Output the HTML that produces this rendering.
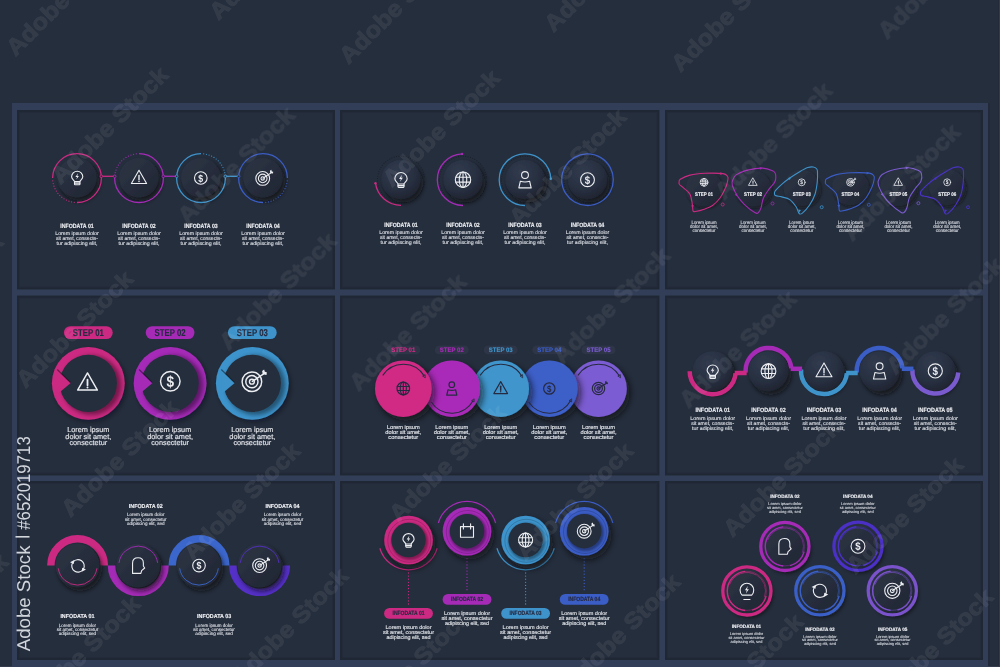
<!DOCTYPE html><html><head><meta charset="utf-8"><title>Infographic templates</title><style>
html,body{margin:0;padding:0;background:#252e3d;width:1000px;height:667px;overflow:hidden}
svg{display:block;position:absolute;left:0;top:0}
text{font-family:"Liberation Sans",Arial,sans-serif;text-rendering:geometricPrecision}
</style></head><body>
<svg width="1000" height="667" viewBox="0 0 1000 667">
<defs>
<filter id="shD" x="-50%" y="-50%" width="200%" height="200%"><feDropShadow dx="2.5" dy="3.5" stdDeviation="2.6" flood-color="#0b0e16" flood-opacity="0.75"/></filter>
<filter id="shS" x="-50%" y="-50%" width="200%" height="200%"><feDropShadow dx="1.5" dy="2" stdDeviation="1.6" flood-color="#0b0e16" flood-opacity="0.6"/></filter>
<filter id="shL" x="-50%" y="-50%" width="200%" height="200%"><feDropShadow dx="3" dy="4" stdDeviation="3.5" flood-color="#0b0e16" flood-opacity="0.7"/></filter>
<filter id="blur1"><feGaussianBlur stdDeviation="1.2"/></filter>
<filter id="blur2" x="-20%" y="-20%" width="140%" height="140%"><feGaussianBlur stdDeviation="2"/></filter>
<filter id="shR" x="-50%" y="-50%" width="200%" height="200%"><feDropShadow dx="2" dy="2.5" stdDeviation="2.5" flood-color="#0b0e16" flood-opacity="0.4"/></filter>
<linearGradient id="gDisk" x1="0" y1="0" x2="1" y2="1"><stop offset="0" stop-color="#2e3647"/><stop offset="1" stop-color="#1f2532"/></linearGradient>
<radialGradient id="gSphere" cx="0.38" cy="0.3" r="0.8"><stop offset="0" stop-color="#313b4e"/><stop offset="0.6" stop-color="#272f40"/><stop offset="1" stop-color="#1c212c"/></radialGradient>
</defs>
<rect x="0" y="0" width="1000" height="667" fill="#252e3d"/>
<rect x="18" y="111" width="316" height="177.5" fill="none" stroke="#1d2331" stroke-width="2" stroke-opacity="0.6"/>
<rect x="19.5" y="112.5" width="313" height="174.5" fill="none" stroke="#1f2533" stroke-width="1" stroke-opacity="0.25"/>
<rect x="18" y="296.5" width="316" height="178" fill="none" stroke="#1d2331" stroke-width="2" stroke-opacity="0.6"/>
<rect x="19.5" y="298" width="313" height="175" fill="none" stroke="#1f2533" stroke-width="1" stroke-opacity="0.25"/>
<rect x="18" y="482" width="316" height="177" fill="none" stroke="#1d2331" stroke-width="2" stroke-opacity="0.6"/>
<rect x="19.5" y="483.5" width="313" height="174" fill="none" stroke="#1f2533" stroke-width="1" stroke-opacity="0.25"/>
<rect x="341" y="111" width="317.5" height="177.5" fill="none" stroke="#1d2331" stroke-width="2" stroke-opacity="0.6"/>
<rect x="342.5" y="112.5" width="314.5" height="174.5" fill="none" stroke="#1f2533" stroke-width="1" stroke-opacity="0.25"/>
<rect x="341" y="296.5" width="317.5" height="178" fill="none" stroke="#1d2331" stroke-width="2" stroke-opacity="0.6"/>
<rect x="342.5" y="298" width="314.5" height="175" fill="none" stroke="#1f2533" stroke-width="1" stroke-opacity="0.25"/>
<rect x="341" y="482" width="317.5" height="177" fill="none" stroke="#1d2331" stroke-width="2" stroke-opacity="0.6"/>
<rect x="342.5" y="483.5" width="314.5" height="174" fill="none" stroke="#1f2533" stroke-width="1" stroke-opacity="0.25"/>
<rect x="666" y="111" width="316" height="177.5" fill="none" stroke="#1d2331" stroke-width="2" stroke-opacity="0.6"/>
<rect x="667.5" y="112.5" width="313" height="174.5" fill="none" stroke="#1f2533" stroke-width="1" stroke-opacity="0.25"/>
<rect x="666" y="296.5" width="316" height="178" fill="none" stroke="#1d2331" stroke-width="2" stroke-opacity="0.6"/>
<rect x="667.5" y="298" width="313" height="175" fill="none" stroke="#1f2533" stroke-width="1" stroke-opacity="0.25"/>
<rect x="666" y="482" width="316" height="177" fill="none" stroke="#1d2331" stroke-width="2" stroke-opacity="0.6"/>
<rect x="667.5" y="483.5" width="313" height="174" fill="none" stroke="#1f2533" stroke-width="1" stroke-opacity="0.25"/>
<rect x="12" y="103" width="5" height="564" fill="#323e57"/>
<rect x="335" y="103" width="5" height="564" fill="#323e57"/>
<rect x="659.5" y="103" width="5.5" height="564" fill="#323e57"/>
<rect x="983" y="103" width="5" height="564" fill="#323e57"/>
<rect x="12" y="103" width="976" height="7" fill="#323e57"/>
<rect x="12" y="289.5" width="976" height="6" fill="#323e57"/>
<rect x="12" y="475.5" width="976" height="5.5" fill="#323e57"/>
<rect x="12" y="660" width="976" height="7" fill="#323e57"/>
<rect x="988" y="103" width="2" height="564" fill="#20263a" opacity="0.6"/>
<rect x="998" y="0" width="1" height="667" fill="#222a39" opacity="0.7"/>
<rect x="999" y="0" width="1" height="667" fill="#343c4c"/>
<rect x="0" y="666" width="12" height="1" fill="#343c4c"/>
<rect x="988" y="666" width="12" height="1" fill="#343c4c"/>
<line x1="101.33" y1="176.3" x2="114.67" y2="176.3" stroke="#cc2a82" stroke-width="1.3"/>
<line x1="163.33" y1="176.3" x2="176.67" y2="176.3" stroke="#a52bb7" stroke-width="1.3"/>
<line x1="225.33" y1="176.3" x2="238.67" y2="176.3" stroke="#3e93cb" stroke-width="1.3"/>
<circle cx="77" cy="177.9" r="19.6" fill="url(#gDisk)" filter="url(#shD)"/>
<path d="M52.6,178.1 A24.4,24.4 0 1 1 77,202.5" fill="none" stroke="#cc2a82" stroke-width="1.3" />
<circle cx="74.27" cy="202.35" r="0.6" fill="#cc2a82" opacity="1"/>
<circle cx="71.57" cy="201.89" r="0.6" fill="#cc2a82" opacity="1"/>
<circle cx="68.94" cy="201.13" r="0.6" fill="#cc2a82" opacity="1"/>
<circle cx="66.41" cy="200.08" r="0.6" fill="#cc2a82" opacity="1"/>
<circle cx="64.02" cy="198.76" r="0.6" fill="#cc2a82" opacity="1"/>
<circle cx="61.79" cy="197.18" r="0.6" fill="#cc2a82" opacity="1"/>
<circle cx="59.75" cy="195.35" r="0.6" fill="#cc2a82" opacity="1"/>
<circle cx="57.92" cy="193.31" r="0.6" fill="#cc2a82" opacity="1"/>
<circle cx="56.34" cy="191.08" r="0.6" fill="#cc2a82" opacity="1"/>
<circle cx="55.02" cy="188.69" r="0.6" fill="#cc2a82" opacity="1"/>
<circle cx="53.97" cy="186.16" r="0.6" fill="#cc2a82" opacity="1"/>
<circle cx="53.21" cy="183.53" r="0.6" fill="#cc2a82" opacity="1"/>
<circle cx="52.75" cy="180.83" r="0.6" fill="#cc2a82" opacity="1"/>
<g transform="translate(77.2,177.6) scale(1)" fill="none" stroke="#eceef2" stroke-width="1.1" stroke-linejoin="round" stroke-linecap="round"><path d="M-2.7,4.0 C-2.7,2.9 -5.6,1.6 -5.6,-0.8 A5.6,5.6 0 1 1 5.6,-0.8 C5.6,1.6 2.7,2.9 2.7,4.0 Z"/><path d="M-2.7,4.0 V6.6 Q-2.7,7.1 -2.2,7.1 H2.2 Q2.7,7.1 2.7,6.6 V4.0"/><path d="M-2.7,5.5 H2.7"/><path d="M0.9,-4.4 L-1.8,-0.6 H-0.1 L-0.9,2.0 L1.7,-1.6 H0.1 Z" fill="#eceef2" stroke="none"/></g>
<circle cx="139" cy="177.9" r="19.6" fill="url(#gDisk)" filter="url(#shD)"/>
<path d="M139,153.7 A24.4,24.4 0 1 1 114.6,178.1" fill="none" stroke="#a52bb7" stroke-width="1.3" />
<circle cx="114.75" cy="175.37" r="0.6" fill="#a52bb7" opacity="1"/>
<circle cx="115.21" cy="172.67" r="0.6" fill="#a52bb7" opacity="1"/>
<circle cx="115.97" cy="170.04" r="0.6" fill="#a52bb7" opacity="1"/>
<circle cx="117.02" cy="167.51" r="0.6" fill="#a52bb7" opacity="1"/>
<circle cx="118.34" cy="165.12" r="0.6" fill="#a52bb7" opacity="1"/>
<circle cx="119.92" cy="162.89" r="0.6" fill="#a52bb7" opacity="1"/>
<circle cx="121.75" cy="160.85" r="0.6" fill="#a52bb7" opacity="1"/>
<circle cx="123.79" cy="159.02" r="0.6" fill="#a52bb7" opacity="1"/>
<circle cx="126.02" cy="157.44" r="0.6" fill="#a52bb7" opacity="1"/>
<circle cx="128.41" cy="156.12" r="0.6" fill="#a52bb7" opacity="1"/>
<circle cx="130.94" cy="155.07" r="0.6" fill="#a52bb7" opacity="1"/>
<circle cx="133.57" cy="154.31" r="0.6" fill="#a52bb7" opacity="1"/>
<circle cx="136.27" cy="153.85" r="0.6" fill="#a52bb7" opacity="1"/>
<g transform="translate(139,177.9) scale(1)" fill="none" stroke="#eceef2" stroke-width="1.1" stroke-linejoin="round" stroke-linecap="round"><path d="M0,-7.6 L7.6,5.6 H-7.6 Z"/><path d="M0,-2.4 V1.9" stroke-width="1.38"/><circle cx="0" cy="3.6" r="0.75" fill="#eceef2" stroke="none"/></g>
<circle cx="201" cy="177.9" r="19.6" fill="url(#gDisk)" filter="url(#shD)"/>
<path d="M225.4,178.1 A24.4,24.4 0 1 1 201,153.7" fill="none" stroke="#3e93cb" stroke-width="1.3" />
<circle cx="203.73" cy="153.85" r="0.6" fill="#3e93cb" opacity="1"/>
<circle cx="206.43" cy="154.31" r="0.6" fill="#3e93cb" opacity="1"/>
<circle cx="209.06" cy="155.07" r="0.6" fill="#3e93cb" opacity="1"/>
<circle cx="211.59" cy="156.12" r="0.6" fill="#3e93cb" opacity="1"/>
<circle cx="213.98" cy="157.44" r="0.6" fill="#3e93cb" opacity="1"/>
<circle cx="216.21" cy="159.02" r="0.6" fill="#3e93cb" opacity="1"/>
<circle cx="218.25" cy="160.85" r="0.6" fill="#3e93cb" opacity="1"/>
<circle cx="220.08" cy="162.89" r="0.6" fill="#3e93cb" opacity="1"/>
<circle cx="221.66" cy="165.12" r="0.6" fill="#3e93cb" opacity="1"/>
<circle cx="222.98" cy="167.51" r="0.6" fill="#3e93cb" opacity="1"/>
<circle cx="224.03" cy="170.04" r="0.6" fill="#3e93cb" opacity="1"/>
<circle cx="224.79" cy="172.67" r="0.6" fill="#3e93cb" opacity="1"/>
<circle cx="225.25" cy="175.37" r="0.6" fill="#3e93cb" opacity="1"/>
<g transform="translate(200.8,178) scale(1)" fill="none" stroke="#eceef2" stroke-width="1.1" stroke-linejoin="round" stroke-linecap="round"><circle cx="0" cy="0" r="6.3"/><text x="0" y="3.6" font-size="10.2" font-weight="700" text-anchor="middle" transform="scale(0.86,1)" fill="#eceef2" stroke="none">$</text></g>
<circle cx="263" cy="177.9" r="19.6" fill="url(#gDisk)" filter="url(#shD)"/>
<path d="M263,202.5 A24.4,24.4 0 1 1 287.4,178.1" fill="none" stroke="#3b5dc6" stroke-width="1.3" />
<circle cx="287.25" cy="180.83" r="0.6" fill="#3b5dc6" opacity="1"/>
<circle cx="286.79" cy="183.53" r="0.6" fill="#3b5dc6" opacity="1"/>
<circle cx="286.03" cy="186.16" r="0.6" fill="#3b5dc6" opacity="1"/>
<circle cx="284.98" cy="188.69" r="0.6" fill="#3b5dc6" opacity="1"/>
<circle cx="283.66" cy="191.08" r="0.6" fill="#3b5dc6" opacity="1"/>
<circle cx="282.08" cy="193.31" r="0.6" fill="#3b5dc6" opacity="1"/>
<circle cx="280.25" cy="195.35" r="0.6" fill="#3b5dc6" opacity="1"/>
<circle cx="278.21" cy="197.18" r="0.6" fill="#3b5dc6" opacity="1"/>
<circle cx="275.98" cy="198.76" r="0.6" fill="#3b5dc6" opacity="1"/>
<circle cx="273.59" cy="200.08" r="0.6" fill="#3b5dc6" opacity="1"/>
<circle cx="271.06" cy="201.13" r="0.6" fill="#3b5dc6" opacity="1"/>
<circle cx="268.43" cy="201.89" r="0.6" fill="#3b5dc6" opacity="1"/>
<circle cx="265.73" cy="202.35" r="0.6" fill="#3b5dc6" opacity="1"/>
<g transform="translate(262.7,178.4) scale(1)" fill="none" stroke="#eceef2" stroke-width="1.1" stroke-linejoin="round" stroke-linecap="round"><circle cx="0" cy="0" r="6.9"/><circle cx="0" cy="0" r="4.3"/><circle cx="0" cy="0" r="1.7"/><path d="M0.3,-0.2 L8.0,-5.3"/><path d="M7.2,-7.6 L7.6,-5.2 L10.3,-4.8 L10.5,-6.6 L9.1,-7.0 L8.6,-8.6 Z" fill="#eceef2" stroke="none"/></g>
<circle cx="101.33" cy="176.3" r="1.3" fill="#252e3d" stroke="#cc2a82" stroke-width="0.9"/>
<circle cx="114.67" cy="176.3" r="1.3" fill="#252e3d" stroke="#a52bb7" stroke-width="0.9"/>
<circle cx="163.33" cy="176.3" r="1.3" fill="#252e3d" stroke="#a52bb7" stroke-width="0.9"/>
<circle cx="176.67" cy="176.3" r="1.3" fill="#252e3d" stroke="#3e93cb" stroke-width="0.9"/>
<circle cx="225.33" cy="176.3" r="1.3" fill="#252e3d" stroke="#3e93cb" stroke-width="0.9"/>
<circle cx="238.67" cy="176.3" r="1.3" fill="#252e3d" stroke="#3b5dc6" stroke-width="0.9"/>
<text x="77" y="227.7" font-size="6.09" font-weight="700" fill="#eceef2" text-anchor="middle" textLength="33.5" lengthAdjust="spacingAndGlyphs" stroke="#eceef2" stroke-width="0.15" >INFODATA 01</text>
<text x="77" y="235.2" font-size="5.15" font-weight="400" fill="#d9dce2" text-anchor="middle" textLength="43.5" lengthAdjust="spacingAndGlyphs" stroke="#d9dce2" stroke-width="0.15" >Lorem ipsum dolor</text>
<text x="77" y="239.9" font-size="5.15" font-weight="400" fill="#d9dce2" text-anchor="middle" textLength="42" lengthAdjust="spacingAndGlyphs" stroke="#d9dce2" stroke-width="0.15" >sit amet, consecte-</text>
<text x="77" y="244.5" font-size="5.15" font-weight="400" fill="#d9dce2" text-anchor="middle" textLength="40.8" lengthAdjust="spacingAndGlyphs" stroke="#d9dce2" stroke-width="0.15" >tur adipiscing elit,</text>
<text x="139" y="227.7" font-size="6.09" font-weight="700" fill="#eceef2" text-anchor="middle" textLength="33.5" lengthAdjust="spacingAndGlyphs" stroke="#eceef2" stroke-width="0.15" >INFODATA 02</text>
<text x="139" y="235.2" font-size="5.15" font-weight="400" fill="#d9dce2" text-anchor="middle" textLength="43.5" lengthAdjust="spacingAndGlyphs" stroke="#d9dce2" stroke-width="0.15" >Lorem ipsum dolor</text>
<text x="139" y="239.9" font-size="5.15" font-weight="400" fill="#d9dce2" text-anchor="middle" textLength="42" lengthAdjust="spacingAndGlyphs" stroke="#d9dce2" stroke-width="0.15" >sit amet, consecte-</text>
<text x="139" y="244.5" font-size="5.15" font-weight="400" fill="#d9dce2" text-anchor="middle" textLength="40.8" lengthAdjust="spacingAndGlyphs" stroke="#d9dce2" stroke-width="0.15" >tur adipiscing elit,</text>
<text x="201" y="227.7" font-size="6.09" font-weight="700" fill="#eceef2" text-anchor="middle" textLength="33.5" lengthAdjust="spacingAndGlyphs" stroke="#eceef2" stroke-width="0.15" >INFODATA 03</text>
<text x="201" y="235.2" font-size="5.15" font-weight="400" fill="#d9dce2" text-anchor="middle" textLength="43.5" lengthAdjust="spacingAndGlyphs" stroke="#d9dce2" stroke-width="0.15" >Lorem ipsum dolor</text>
<text x="201" y="239.9" font-size="5.15" font-weight="400" fill="#d9dce2" text-anchor="middle" textLength="42" lengthAdjust="spacingAndGlyphs" stroke="#d9dce2" stroke-width="0.15" >sit amet, consecte-</text>
<text x="201" y="244.5" font-size="5.15" font-weight="400" fill="#d9dce2" text-anchor="middle" textLength="40.8" lengthAdjust="spacingAndGlyphs" stroke="#d9dce2" stroke-width="0.15" >tur adipiscing elit,</text>
<text x="263" y="227.7" font-size="6.09" font-weight="700" fill="#eceef2" text-anchor="middle" textLength="33.5" lengthAdjust="spacingAndGlyphs" stroke="#eceef2" stroke-width="0.15" >INFODATA 04</text>
<text x="263" y="235.2" font-size="5.15" font-weight="400" fill="#d9dce2" text-anchor="middle" textLength="43.5" lengthAdjust="spacingAndGlyphs" stroke="#d9dce2" stroke-width="0.15" >Lorem ipsum dolor</text>
<text x="263" y="239.9" font-size="5.15" font-weight="400" fill="#d9dce2" text-anchor="middle" textLength="42" lengthAdjust="spacingAndGlyphs" stroke="#d9dce2" stroke-width="0.15" >sit amet, consecte-</text>
<text x="263" y="244.5" font-size="5.15" font-weight="400" fill="#d9dce2" text-anchor="middle" textLength="40.8" lengthAdjust="spacingAndGlyphs" stroke="#d9dce2" stroke-width="0.15" >tur adipiscing elit,</text>
<circle cx="424.38" cy="182.01" r="0.55" fill="#1b2029" opacity="1"/>
<circle cx="424.01" cy="184.39" r="0.55" fill="#1b2029" opacity="1"/>
<circle cx="423.39" cy="186.73" r="0.55" fill="#1b2029" opacity="1"/>
<circle cx="422.54" cy="188.99" r="0.55" fill="#1b2029" opacity="1"/>
<circle cx="421.47" cy="191.15" r="0.55" fill="#1b2029" opacity="1"/>
<circle cx="420.18" cy="193.18" r="0.55" fill="#1b2029" opacity="1"/>
<circle cx="418.68" cy="195.08" r="0.55" fill="#1b2029" opacity="1"/>
<circle cx="417" cy="196.81" r="0.55" fill="#1b2029" opacity="1"/>
<circle cx="415.15" cy="198.36" r="0.55" fill="#1b2029" opacity="1"/>
<circle cx="413.16" cy="199.71" r="0.55" fill="#1b2029" opacity="1"/>
<circle cx="411.03" cy="200.85" r="0.55" fill="#1b2029" opacity="1"/>
<circle cx="408.8" cy="201.77" r="0.55" fill="#1b2029" opacity="1"/>
<circle cx="406.48" cy="202.45" r="0.55" fill="#1b2029" opacity="1"/>
<circle cx="404.11" cy="202.89" r="0.55" fill="#1b2029" opacity="1"/>
<circle cx="401.71" cy="203.09" r="0.55" fill="#1b2029" opacity="1"/>
<circle cx="399.29" cy="203.04" r="0.55" fill="#1b2029" opacity="1"/>
<circle cx="396.9" cy="202.74" r="0.55" fill="#1b2029" opacity="1"/>
<circle cx="394.55" cy="202.2" r="0.55" fill="#1b2029" opacity="1"/>
<circle cx="392.27" cy="201.42" r="0.55" fill="#1b2029" opacity="1"/>
<circle cx="390.07" cy="200.41" r="0.55" fill="#1b2029" opacity="1"/>
<circle cx="388" cy="199.18" r="0.55" fill="#1b2029" opacity="1"/>
<circle cx="386.06" cy="197.74" r="0.55" fill="#1b2029" opacity="1"/>
<circle cx="384.28" cy="196.11" r="0.55" fill="#1b2029" opacity="1"/>
<circle cx="382.67" cy="194.31" r="0.55" fill="#1b2029" opacity="1"/>
<circle cx="381.26" cy="192.35" r="0.55" fill="#1b2029" opacity="1"/>
<circle cx="380.06" cy="190.26" r="0.55" fill="#1b2029" opacity="1"/>
<circle cx="379.08" cy="188.06" r="0.55" fill="#1b2029" opacity="1"/>
<circle cx="378.32" cy="185.77" r="0.55" fill="#1b2029" opacity="1"/>
<circle cx="377.81" cy="183.41" r="0.55" fill="#1b2029" opacity="1"/>
<circle cx="377.54" cy="181.01" r="0.55" fill="#1b2029" opacity="1"/>
<circle cx="377.52" cy="178.6" r="0.55" fill="#1b2029" opacity="1"/>
<circle cx="377.75" cy="176.2" r="0.55" fill="#1b2029" opacity="1"/>
<circle cx="378.22" cy="173.83" r="0.55" fill="#1b2029" opacity="1"/>
<circle cx="378.93" cy="171.52" r="0.55" fill="#1b2029" opacity="1"/>
<circle cx="379.88" cy="169.3" r="0.55" fill="#1b2029" opacity="1"/>
<circle cx="381.04" cy="167.19" r="0.55" fill="#1b2029" opacity="1"/>
<circle cx="382.42" cy="165.21" r="0.55" fill="#1b2029" opacity="1"/>
<circle cx="383.99" cy="163.38" r="0.55" fill="#1b2029" opacity="1"/>
<circle cx="385.75" cy="161.72" r="0.55" fill="#1b2029" opacity="1"/>
<circle cx="387.66" cy="160.25" r="0.55" fill="#1b2029" opacity="1"/>
<circle cx="389.71" cy="158.99" r="0.55" fill="#1b2029" opacity="1"/>
<circle cx="391.89" cy="157.94" r="0.55" fill="#1b2029" opacity="1"/>
<circle cx="394.15" cy="157.12" r="0.55" fill="#1b2029" opacity="1"/>
<circle cx="396.5" cy="156.54" r="0.55" fill="#1b2029" opacity="1"/>
<circle cx="398.88" cy="156.2" r="0.55" fill="#1b2029" opacity="1"/>
<circle cx="401.3" cy="156.1" r="0.55" fill="#1b2029" opacity="1"/>
<circle cx="403.7" cy="156.26" r="0.55" fill="#1b2029" opacity="1"/>
<circle cx="406.08" cy="156.66" r="0.55" fill="#1b2029" opacity="1"/>
<circle cx="408.41" cy="157.3" r="0.55" fill="#1b2029" opacity="1"/>
<circle cx="410.66" cy="158.18" r="0.55" fill="#1b2029" opacity="1"/>
<circle cx="412.8" cy="159.28" r="0.55" fill="#1b2029" opacity="1"/>
<circle cx="414.82" cy="160.6" r="0.55" fill="#1b2029" opacity="1"/>
<circle cx="416.7" cy="162.11" r="0.55" fill="#1b2029" opacity="1"/>
<circle cx="418.41" cy="163.82" r="0.55" fill="#1b2029" opacity="1"/>
<circle cx="419.94" cy="165.68" r="0.55" fill="#1b2029" opacity="1"/>
<circle cx="421.26" cy="167.7" r="0.55" fill="#1b2029" opacity="1"/>
<circle cx="422.38" cy="169.84" r="0.55" fill="#1b2029" opacity="1"/>
<circle cx="423.27" cy="172.08" r="0.55" fill="#1b2029" opacity="1"/>
<circle cx="423.92" cy="174.41" r="0.55" fill="#1b2029" opacity="1"/>
<circle cx="424.33" cy="176.78" r="0.55" fill="#1b2029" opacity="1"/>
<circle cx="401" cy="179.6" r="19.6" fill="url(#gSphere)" filter="url(#shD)"/>
<path d="M401,205.4 A25.8,25.8 0 0 1 375.45,183.19" fill="none" stroke="#cc2a82" stroke-width="1.3" />
<circle cx="375.45" cy="183.19" r="1.2" fill="#cc2a82"/>
<g transform="translate(401,179.6) scale(1.1)" fill="none" stroke="#eceef2" stroke-width="1" stroke-linejoin="round" stroke-linecap="round"><path d="M-2.7,4.0 C-2.7,2.9 -5.6,1.6 -5.6,-0.8 A5.6,5.6 0 1 1 5.6,-0.8 C5.6,1.6 2.7,2.9 2.7,4.0 Z"/><path d="M-2.7,4.0 V6.6 Q-2.7,7.1 -2.2,7.1 H2.2 Q2.7,7.1 2.7,6.6 V4.0"/><path d="M-2.7,5.5 H2.7"/><path d="M0.9,-4.4 L-1.8,-0.6 H-0.1 L-0.9,2.0 L1.7,-1.6 H0.1 Z" fill="#eceef2" stroke="none"/></g>
<circle cx="486.38" cy="182.11" r="0.55" fill="#1b2029" opacity="1"/>
<circle cx="486.01" cy="184.49" r="0.55" fill="#1b2029" opacity="1"/>
<circle cx="485.39" cy="186.83" r="0.55" fill="#1b2029" opacity="1"/>
<circle cx="484.54" cy="189.09" r="0.55" fill="#1b2029" opacity="1"/>
<circle cx="483.47" cy="191.25" r="0.55" fill="#1b2029" opacity="1"/>
<circle cx="482.18" cy="193.28" r="0.55" fill="#1b2029" opacity="1"/>
<circle cx="480.68" cy="195.18" r="0.55" fill="#1b2029" opacity="1"/>
<circle cx="479" cy="196.91" r="0.55" fill="#1b2029" opacity="1"/>
<circle cx="477.15" cy="198.46" r="0.55" fill="#1b2029" opacity="1"/>
<circle cx="475.16" cy="199.81" r="0.55" fill="#1b2029" opacity="1"/>
<circle cx="473.03" cy="200.95" r="0.55" fill="#1b2029" opacity="1"/>
<circle cx="470.8" cy="201.87" r="0.55" fill="#1b2029" opacity="1"/>
<circle cx="468.48" cy="202.55" r="0.55" fill="#1b2029" opacity="1"/>
<circle cx="466.11" cy="202.99" r="0.55" fill="#1b2029" opacity="1"/>
<circle cx="463.71" cy="203.19" r="0.55" fill="#1b2029" opacity="1"/>
<circle cx="461.29" cy="203.14" r="0.55" fill="#1b2029" opacity="1"/>
<circle cx="458.9" cy="202.84" r="0.55" fill="#1b2029" opacity="1"/>
<circle cx="456.55" cy="202.3" r="0.55" fill="#1b2029" opacity="1"/>
<circle cx="454.27" cy="201.52" r="0.55" fill="#1b2029" opacity="1"/>
<circle cx="452.07" cy="200.51" r="0.55" fill="#1b2029" opacity="1"/>
<circle cx="450" cy="199.28" r="0.55" fill="#1b2029" opacity="1"/>
<circle cx="448.06" cy="197.84" r="0.55" fill="#1b2029" opacity="1"/>
<circle cx="446.28" cy="196.21" r="0.55" fill="#1b2029" opacity="1"/>
<circle cx="444.67" cy="194.41" r="0.55" fill="#1b2029" opacity="1"/>
<circle cx="443.26" cy="192.45" r="0.55" fill="#1b2029" opacity="1"/>
<circle cx="442.06" cy="190.36" r="0.55" fill="#1b2029" opacity="1"/>
<circle cx="441.08" cy="188.16" r="0.55" fill="#1b2029" opacity="1"/>
<circle cx="440.32" cy="185.87" r="0.55" fill="#1b2029" opacity="1"/>
<circle cx="439.81" cy="183.51" r="0.55" fill="#1b2029" opacity="1"/>
<circle cx="439.54" cy="181.11" r="0.55" fill="#1b2029" opacity="1"/>
<circle cx="439.52" cy="178.7" r="0.55" fill="#1b2029" opacity="1"/>
<circle cx="439.75" cy="176.3" r="0.55" fill="#1b2029" opacity="1"/>
<circle cx="440.22" cy="173.93" r="0.55" fill="#1b2029" opacity="1"/>
<circle cx="440.93" cy="171.62" r="0.55" fill="#1b2029" opacity="1"/>
<circle cx="441.88" cy="169.4" r="0.55" fill="#1b2029" opacity="1"/>
<circle cx="443.04" cy="167.29" r="0.55" fill="#1b2029" opacity="1"/>
<circle cx="444.42" cy="165.31" r="0.55" fill="#1b2029" opacity="1"/>
<circle cx="445.99" cy="163.48" r="0.55" fill="#1b2029" opacity="1"/>
<circle cx="447.75" cy="161.82" r="0.55" fill="#1b2029" opacity="1"/>
<circle cx="449.66" cy="160.35" r="0.55" fill="#1b2029" opacity="1"/>
<circle cx="451.71" cy="159.09" r="0.55" fill="#1b2029" opacity="1"/>
<circle cx="453.89" cy="158.04" r="0.55" fill="#1b2029" opacity="1"/>
<circle cx="456.15" cy="157.22" r="0.55" fill="#1b2029" opacity="1"/>
<circle cx="458.5" cy="156.64" r="0.55" fill="#1b2029" opacity="1"/>
<circle cx="460.88" cy="156.3" r="0.55" fill="#1b2029" opacity="1"/>
<circle cx="463.3" cy="156.2" r="0.55" fill="#1b2029" opacity="1"/>
<circle cx="465.7" cy="156.36" r="0.55" fill="#1b2029" opacity="1"/>
<circle cx="468.08" cy="156.76" r="0.55" fill="#1b2029" opacity="1"/>
<circle cx="470.41" cy="157.4" r="0.55" fill="#1b2029" opacity="1"/>
<circle cx="472.66" cy="158.28" r="0.55" fill="#1b2029" opacity="1"/>
<circle cx="474.8" cy="159.38" r="0.55" fill="#1b2029" opacity="1"/>
<circle cx="476.82" cy="160.7" r="0.55" fill="#1b2029" opacity="1"/>
<circle cx="478.7" cy="162.21" r="0.55" fill="#1b2029" opacity="1"/>
<circle cx="480.41" cy="163.92" r="0.55" fill="#1b2029" opacity="1"/>
<circle cx="481.94" cy="165.78" r="0.55" fill="#1b2029" opacity="1"/>
<circle cx="483.26" cy="167.8" r="0.55" fill="#1b2029" opacity="1"/>
<circle cx="484.38" cy="169.94" r="0.55" fill="#1b2029" opacity="1"/>
<circle cx="485.27" cy="172.18" r="0.55" fill="#1b2029" opacity="1"/>
<circle cx="485.92" cy="174.51" r="0.55" fill="#1b2029" opacity="1"/>
<circle cx="486.33" cy="176.88" r="0.55" fill="#1b2029" opacity="1"/>
<circle cx="463" cy="179.7" r="19.6" fill="url(#gSphere)" filter="url(#shD)"/>
<path d="M463,205.5 A25.8,25.8 0 0 1 462.1,153.92" fill="none" stroke="#a52bb7" stroke-width="1.3" />
<circle cx="462.1" cy="153.92" r="1.2" fill="#a52bb7"/>
<g transform="translate(463,179.7) scale(1.1)" fill="none" stroke="#eceef2" stroke-width="1" stroke-linejoin="round" stroke-linecap="round"><circle cx="0" cy="0" r="7"/><ellipse cx="0" cy="0" rx="3.4" ry="7"/><path d="M0,-7 V7 M-6.6,-2.2 H6.6 M-6.6,2.2 H6.6"/></g>
<circle cx="548.38" cy="182.11" r="0.55" fill="#1b2029" opacity="1"/>
<circle cx="548.01" cy="184.49" r="0.55" fill="#1b2029" opacity="1"/>
<circle cx="547.39" cy="186.83" r="0.55" fill="#1b2029" opacity="1"/>
<circle cx="546.54" cy="189.09" r="0.55" fill="#1b2029" opacity="1"/>
<circle cx="545.47" cy="191.25" r="0.55" fill="#1b2029" opacity="1"/>
<circle cx="544.18" cy="193.28" r="0.55" fill="#1b2029" opacity="1"/>
<circle cx="542.68" cy="195.18" r="0.55" fill="#1b2029" opacity="1"/>
<circle cx="541" cy="196.91" r="0.55" fill="#1b2029" opacity="1"/>
<circle cx="539.15" cy="198.46" r="0.55" fill="#1b2029" opacity="1"/>
<circle cx="537.16" cy="199.81" r="0.55" fill="#1b2029" opacity="1"/>
<circle cx="535.03" cy="200.95" r="0.55" fill="#1b2029" opacity="1"/>
<circle cx="532.8" cy="201.87" r="0.55" fill="#1b2029" opacity="1"/>
<circle cx="530.48" cy="202.55" r="0.55" fill="#1b2029" opacity="1"/>
<circle cx="528.11" cy="202.99" r="0.55" fill="#1b2029" opacity="1"/>
<circle cx="525.71" cy="203.19" r="0.55" fill="#1b2029" opacity="1"/>
<circle cx="523.29" cy="203.14" r="0.55" fill="#1b2029" opacity="1"/>
<circle cx="520.9" cy="202.84" r="0.55" fill="#1b2029" opacity="1"/>
<circle cx="518.55" cy="202.3" r="0.55" fill="#1b2029" opacity="1"/>
<circle cx="516.27" cy="201.52" r="0.55" fill="#1b2029" opacity="1"/>
<circle cx="514.07" cy="200.51" r="0.55" fill="#1b2029" opacity="1"/>
<circle cx="512" cy="199.28" r="0.55" fill="#1b2029" opacity="1"/>
<circle cx="510.06" cy="197.84" r="0.55" fill="#1b2029" opacity="1"/>
<circle cx="508.28" cy="196.21" r="0.55" fill="#1b2029" opacity="1"/>
<circle cx="506.67" cy="194.41" r="0.55" fill="#1b2029" opacity="1"/>
<circle cx="505.26" cy="192.45" r="0.55" fill="#1b2029" opacity="1"/>
<circle cx="504.06" cy="190.36" r="0.55" fill="#1b2029" opacity="1"/>
<circle cx="503.08" cy="188.16" r="0.55" fill="#1b2029" opacity="1"/>
<circle cx="502.32" cy="185.87" r="0.55" fill="#1b2029" opacity="1"/>
<circle cx="501.81" cy="183.51" r="0.55" fill="#1b2029" opacity="1"/>
<circle cx="501.54" cy="181.11" r="0.55" fill="#1b2029" opacity="1"/>
<circle cx="501.52" cy="178.7" r="0.55" fill="#1b2029" opacity="1"/>
<circle cx="501.75" cy="176.3" r="0.55" fill="#1b2029" opacity="1"/>
<circle cx="502.22" cy="173.93" r="0.55" fill="#1b2029" opacity="1"/>
<circle cx="502.93" cy="171.62" r="0.55" fill="#1b2029" opacity="1"/>
<circle cx="503.88" cy="169.4" r="0.55" fill="#1b2029" opacity="1"/>
<circle cx="505.04" cy="167.29" r="0.55" fill="#1b2029" opacity="1"/>
<circle cx="506.42" cy="165.31" r="0.55" fill="#1b2029" opacity="1"/>
<circle cx="507.99" cy="163.48" r="0.55" fill="#1b2029" opacity="1"/>
<circle cx="509.75" cy="161.82" r="0.55" fill="#1b2029" opacity="1"/>
<circle cx="511.66" cy="160.35" r="0.55" fill="#1b2029" opacity="1"/>
<circle cx="513.71" cy="159.09" r="0.55" fill="#1b2029" opacity="1"/>
<circle cx="515.89" cy="158.04" r="0.55" fill="#1b2029" opacity="1"/>
<circle cx="518.15" cy="157.22" r="0.55" fill="#1b2029" opacity="1"/>
<circle cx="520.5" cy="156.64" r="0.55" fill="#1b2029" opacity="1"/>
<circle cx="522.88" cy="156.3" r="0.55" fill="#1b2029" opacity="1"/>
<circle cx="525.3" cy="156.2" r="0.55" fill="#1b2029" opacity="1"/>
<circle cx="527.7" cy="156.36" r="0.55" fill="#1b2029" opacity="1"/>
<circle cx="530.08" cy="156.76" r="0.55" fill="#1b2029" opacity="1"/>
<circle cx="532.41" cy="157.4" r="0.55" fill="#1b2029" opacity="1"/>
<circle cx="534.66" cy="158.28" r="0.55" fill="#1b2029" opacity="1"/>
<circle cx="536.8" cy="159.38" r="0.55" fill="#1b2029" opacity="1"/>
<circle cx="538.82" cy="160.7" r="0.55" fill="#1b2029" opacity="1"/>
<circle cx="540.7" cy="162.21" r="0.55" fill="#1b2029" opacity="1"/>
<circle cx="542.41" cy="163.92" r="0.55" fill="#1b2029" opacity="1"/>
<circle cx="543.94" cy="165.78" r="0.55" fill="#1b2029" opacity="1"/>
<circle cx="545.26" cy="167.8" r="0.55" fill="#1b2029" opacity="1"/>
<circle cx="546.38" cy="169.94" r="0.55" fill="#1b2029" opacity="1"/>
<circle cx="547.27" cy="172.18" r="0.55" fill="#1b2029" opacity="1"/>
<circle cx="547.92" cy="174.51" r="0.55" fill="#1b2029" opacity="1"/>
<circle cx="548.33" cy="176.88" r="0.55" fill="#1b2029" opacity="1"/>
<circle cx="525" cy="179.7" r="19.6" fill="url(#gSphere)" filter="url(#shD)"/>
<path d="M525,205.5 A25.8,25.8 0 1 1 550.78,178.8" fill="none" stroke="#3e93cb" stroke-width="1.3" />
<circle cx="550.78" cy="178.8" r="1.2" fill="#3e93cb"/>
<g transform="translate(525,179.7) scale(1.1)" fill="none" stroke="#eceef2" stroke-width="1" stroke-linejoin="round" stroke-linecap="round"><circle cx="0" cy="-4.2" r="3.1"/><path d="M-4.2,1.4 Q0,2.8 4.2,1.4 L5.6,7.4 H-5.6 Z"/></g>
<circle cx="610.88" cy="182.11" r="0.55" fill="#1b2029" opacity="1"/>
<circle cx="610.51" cy="184.49" r="0.55" fill="#1b2029" opacity="1"/>
<circle cx="609.89" cy="186.83" r="0.55" fill="#1b2029" opacity="1"/>
<circle cx="609.04" cy="189.09" r="0.55" fill="#1b2029" opacity="1"/>
<circle cx="607.97" cy="191.25" r="0.55" fill="#1b2029" opacity="1"/>
<circle cx="606.68" cy="193.28" r="0.55" fill="#1b2029" opacity="1"/>
<circle cx="605.18" cy="195.18" r="0.55" fill="#1b2029" opacity="1"/>
<circle cx="603.5" cy="196.91" r="0.55" fill="#1b2029" opacity="1"/>
<circle cx="601.65" cy="198.46" r="0.55" fill="#1b2029" opacity="1"/>
<circle cx="599.66" cy="199.81" r="0.55" fill="#1b2029" opacity="1"/>
<circle cx="597.53" cy="200.95" r="0.55" fill="#1b2029" opacity="1"/>
<circle cx="595.3" cy="201.87" r="0.55" fill="#1b2029" opacity="1"/>
<circle cx="592.98" cy="202.55" r="0.55" fill="#1b2029" opacity="1"/>
<circle cx="590.61" cy="202.99" r="0.55" fill="#1b2029" opacity="1"/>
<circle cx="588.21" cy="203.19" r="0.55" fill="#1b2029" opacity="1"/>
<circle cx="585.79" cy="203.14" r="0.55" fill="#1b2029" opacity="1"/>
<circle cx="583.4" cy="202.84" r="0.55" fill="#1b2029" opacity="1"/>
<circle cx="581.05" cy="202.3" r="0.55" fill="#1b2029" opacity="1"/>
<circle cx="578.77" cy="201.52" r="0.55" fill="#1b2029" opacity="1"/>
<circle cx="576.57" cy="200.51" r="0.55" fill="#1b2029" opacity="1"/>
<circle cx="574.5" cy="199.28" r="0.55" fill="#1b2029" opacity="1"/>
<circle cx="572.56" cy="197.84" r="0.55" fill="#1b2029" opacity="1"/>
<circle cx="570.78" cy="196.21" r="0.55" fill="#1b2029" opacity="1"/>
<circle cx="569.17" cy="194.41" r="0.55" fill="#1b2029" opacity="1"/>
<circle cx="567.76" cy="192.45" r="0.55" fill="#1b2029" opacity="1"/>
<circle cx="566.56" cy="190.36" r="0.55" fill="#1b2029" opacity="1"/>
<circle cx="565.58" cy="188.16" r="0.55" fill="#1b2029" opacity="1"/>
<circle cx="564.82" cy="185.87" r="0.55" fill="#1b2029" opacity="1"/>
<circle cx="564.31" cy="183.51" r="0.55" fill="#1b2029" opacity="1"/>
<circle cx="564.04" cy="181.11" r="0.55" fill="#1b2029" opacity="1"/>
<circle cx="564.02" cy="178.7" r="0.55" fill="#1b2029" opacity="1"/>
<circle cx="564.25" cy="176.3" r="0.55" fill="#1b2029" opacity="1"/>
<circle cx="564.72" cy="173.93" r="0.55" fill="#1b2029" opacity="1"/>
<circle cx="565.43" cy="171.62" r="0.55" fill="#1b2029" opacity="1"/>
<circle cx="566.38" cy="169.4" r="0.55" fill="#1b2029" opacity="1"/>
<circle cx="567.54" cy="167.29" r="0.55" fill="#1b2029" opacity="1"/>
<circle cx="568.92" cy="165.31" r="0.55" fill="#1b2029" opacity="1"/>
<circle cx="570.49" cy="163.48" r="0.55" fill="#1b2029" opacity="1"/>
<circle cx="572.25" cy="161.82" r="0.55" fill="#1b2029" opacity="1"/>
<circle cx="574.16" cy="160.35" r="0.55" fill="#1b2029" opacity="1"/>
<circle cx="576.21" cy="159.09" r="0.55" fill="#1b2029" opacity="1"/>
<circle cx="578.39" cy="158.04" r="0.55" fill="#1b2029" opacity="1"/>
<circle cx="580.65" cy="157.22" r="0.55" fill="#1b2029" opacity="1"/>
<circle cx="583" cy="156.64" r="0.55" fill="#1b2029" opacity="1"/>
<circle cx="585.38" cy="156.3" r="0.55" fill="#1b2029" opacity="1"/>
<circle cx="587.8" cy="156.2" r="0.55" fill="#1b2029" opacity="1"/>
<circle cx="590.2" cy="156.36" r="0.55" fill="#1b2029" opacity="1"/>
<circle cx="592.58" cy="156.76" r="0.55" fill="#1b2029" opacity="1"/>
<circle cx="594.91" cy="157.4" r="0.55" fill="#1b2029" opacity="1"/>
<circle cx="597.16" cy="158.28" r="0.55" fill="#1b2029" opacity="1"/>
<circle cx="599.3" cy="159.38" r="0.55" fill="#1b2029" opacity="1"/>
<circle cx="601.32" cy="160.7" r="0.55" fill="#1b2029" opacity="1"/>
<circle cx="603.2" cy="162.21" r="0.55" fill="#1b2029" opacity="1"/>
<circle cx="604.91" cy="163.92" r="0.55" fill="#1b2029" opacity="1"/>
<circle cx="606.44" cy="165.78" r="0.55" fill="#1b2029" opacity="1"/>
<circle cx="607.76" cy="167.8" r="0.55" fill="#1b2029" opacity="1"/>
<circle cx="608.88" cy="169.94" r="0.55" fill="#1b2029" opacity="1"/>
<circle cx="609.77" cy="172.18" r="0.55" fill="#1b2029" opacity="1"/>
<circle cx="610.42" cy="174.51" r="0.55" fill="#1b2029" opacity="1"/>
<circle cx="610.83" cy="176.88" r="0.55" fill="#1b2029" opacity="1"/>
<circle cx="587.5" cy="179.7" r="19.6" fill="url(#gSphere)" filter="url(#shD)"/>
<path d="M613.3,179.7 A25.8,25.8 0 1 1 613.3,179.65" fill="none" stroke="#3b5dc6" stroke-width="1.3" />
<g transform="translate(587.5,179.7) scale(1.1)" fill="none" stroke="#eceef2" stroke-width="1" stroke-linejoin="round" stroke-linecap="round"><circle cx="0" cy="0" r="6.3"/><text x="0" y="3.6" font-size="10.2" font-weight="700" text-anchor="middle" transform="scale(0.86,1)" fill="#eceef2" stroke="none">$</text></g>
<text x="401" y="227.2" font-size="6.09" font-weight="700" fill="#eceef2" text-anchor="middle" textLength="33.5" lengthAdjust="spacingAndGlyphs" stroke="#eceef2" stroke-width="0.15" >INFODATA 01</text>
<text x="401" y="234.3" font-size="5.15" font-weight="400" fill="#d9dce2" text-anchor="middle" textLength="43.5" lengthAdjust="spacingAndGlyphs" stroke="#d9dce2" stroke-width="0.15" >Lorem ipsum dolor</text>
<text x="401" y="239.3" font-size="5.15" font-weight="400" fill="#d9dce2" text-anchor="middle" textLength="42" lengthAdjust="spacingAndGlyphs" stroke="#d9dce2" stroke-width="0.15" >sit amet, consecte-</text>
<text x="401" y="244.1" font-size="5.15" font-weight="400" fill="#d9dce2" text-anchor="middle" textLength="40.8" lengthAdjust="spacingAndGlyphs" stroke="#d9dce2" stroke-width="0.15" >tur adipiscing elit,</text>
<text x="463" y="227.2" font-size="6.09" font-weight="700" fill="#eceef2" text-anchor="middle" textLength="33.5" lengthAdjust="spacingAndGlyphs" stroke="#eceef2" stroke-width="0.15" >INFODATA 02</text>
<text x="463" y="234.3" font-size="5.15" font-weight="400" fill="#d9dce2" text-anchor="middle" textLength="43.5" lengthAdjust="spacingAndGlyphs" stroke="#d9dce2" stroke-width="0.15" >Lorem ipsum dolor</text>
<text x="463" y="239.3" font-size="5.15" font-weight="400" fill="#d9dce2" text-anchor="middle" textLength="42" lengthAdjust="spacingAndGlyphs" stroke="#d9dce2" stroke-width="0.15" >sit amet, consecte-</text>
<text x="463" y="244.1" font-size="5.15" font-weight="400" fill="#d9dce2" text-anchor="middle" textLength="40.8" lengthAdjust="spacingAndGlyphs" stroke="#d9dce2" stroke-width="0.15" >tur adipiscing elit,</text>
<text x="525" y="227.2" font-size="6.09" font-weight="700" fill="#eceef2" text-anchor="middle" textLength="33.5" lengthAdjust="spacingAndGlyphs" stroke="#eceef2" stroke-width="0.15" >INFODATA 03</text>
<text x="525" y="234.3" font-size="5.15" font-weight="400" fill="#d9dce2" text-anchor="middle" textLength="43.5" lengthAdjust="spacingAndGlyphs" stroke="#d9dce2" stroke-width="0.15" >Lorem ipsum dolor</text>
<text x="525" y="239.3" font-size="5.15" font-weight="400" fill="#d9dce2" text-anchor="middle" textLength="42" lengthAdjust="spacingAndGlyphs" stroke="#d9dce2" stroke-width="0.15" >sit amet, consecte-</text>
<text x="525" y="244.1" font-size="5.15" font-weight="400" fill="#d9dce2" text-anchor="middle" textLength="40.8" lengthAdjust="spacingAndGlyphs" stroke="#d9dce2" stroke-width="0.15" >tur adipiscing elit,</text>
<text x="587.5" y="227.2" font-size="6.09" font-weight="700" fill="#eceef2" text-anchor="middle" textLength="33.5" lengthAdjust="spacingAndGlyphs" stroke="#eceef2" stroke-width="0.15" >INFODATA 04</text>
<text x="587.5" y="234.3" font-size="5.15" font-weight="400" fill="#d9dce2" text-anchor="middle" textLength="43.5" lengthAdjust="spacingAndGlyphs" stroke="#d9dce2" stroke-width="0.15" >Lorem ipsum dolor</text>
<text x="587.5" y="239.3" font-size="5.15" font-weight="400" fill="#d9dce2" text-anchor="middle" textLength="42" lengthAdjust="spacingAndGlyphs" stroke="#d9dce2" stroke-width="0.15" >sit amet, consecte-</text>
<text x="587.5" y="244.1" font-size="5.15" font-weight="400" fill="#d9dce2" text-anchor="middle" textLength="40.8" lengthAdjust="spacingAndGlyphs" stroke="#d9dce2" stroke-width="0.15" >tur adipiscing elit,</text>
<circle cx="704" cy="188.5" r="18" fill="url(#gDisk)" filter="url(#shS)"/>
<circle cx="753" cy="188.5" r="18" fill="url(#gDisk)" filter="url(#shS)"/>
<circle cx="801.7" cy="188" r="18" fill="url(#gDisk)" filter="url(#shS)"/>
<circle cx="850.4" cy="187.2" r="18" fill="url(#gDisk)" filter="url(#shS)"/>
<circle cx="898.4" cy="188" r="18" fill="url(#gDisk)" filter="url(#shS)"/>
<circle cx="947.2" cy="187.2" r="18" fill="url(#gDisk)" filter="url(#shS)"/>
<path d="M679.1,182.3 C679.23,181.43 678.48,180.5 680.3,179.3 C682.12,178.1 685.88,176.1 690,175.1 C694.12,174.1 699.5,173.55 705,173.3 C710.5,173.05 719.25,173.1 723,173.6 C726.75,174.1 726.68,175.35 727.5,176.3 C728.32,177.25 728.15,177.55 727.9,179.3 C727.65,181.05 727.32,183.68 726,186.8 C724.68,189.92 722.25,194.88 720,198 C717.75,201.12 715,203.68 712.5,205.5 C710,207.32 707.87,207.9 705,208.9 C702.13,209.9 697.3,211.18 695.3,211.5 C693.3,211.82 693.5,212.05 693,210.8 C692.5,209.55 692.8,206.75 692.3,204 C691.8,201.25 691.38,196.92 690,194.3 C688.62,191.68 685.75,189.93 684,188.3 C682.25,186.67 680.32,185.5 679.5,184.5 C678.68,183.5 678.97,183.17 679.1,182.3 Z" fill="none" stroke="#cc2a82" stroke-width="1.1"/>
<path d="M723.1,173.6 L720.3,175 L720.3,172.2 Z" fill="#cc2a82"/>
<path d="M692.74,208.09 L691.1,205.43 L693.89,205.18 Z" fill="#cc2a82"/>
<circle cx="722.7" cy="204.5" r="1.5" fill="none" stroke="#cc2a82" stroke-width="0.8"/>
<g transform="translate(704,182.3) scale(0.55)" fill="none" stroke="#eceef2" stroke-width="1.45" stroke-linejoin="round" stroke-linecap="round"><circle cx="0" cy="0" r="7"/><ellipse cx="0" cy="0" rx="3.4" ry="7"/><path d="M0,-7 V7 M-6.6,-2.2 H6.6 M-6.6,2.2 H6.6"/></g>
<text x="704" y="195.8" font-size="5.29" font-weight="700" fill="#eceef2" text-anchor="middle" textLength="18" lengthAdjust="spacingAndGlyphs" stroke="#eceef2" stroke-width="0.15" >STEP 01</text>
<text x="704" y="223.8" font-size="4.82" font-weight="400" fill="#d9dce2" text-anchor="middle" textLength="25" lengthAdjust="spacingAndGlyphs" stroke="#d9dce2" stroke-width="0.15" >Lorem ipsum</text>
<text x="704" y="227.8" font-size="4.82" font-weight="400" fill="#d9dce2" text-anchor="middle" textLength="28" lengthAdjust="spacingAndGlyphs" stroke="#d9dce2" stroke-width="0.15" >dolor sit amet,</text>
<text x="704" y="231.8" font-size="4.82" font-weight="400" fill="#d9dce2" text-anchor="middle" textLength="23" lengthAdjust="spacingAndGlyphs" stroke="#d9dce2" stroke-width="0.15" >consectetur</text>
<path d="M732.1,183.1 C732.02,182 731.82,182.07 732.5,180.7 C733.18,179.33 733.52,176.7 736.2,174.9 C738.88,173.1 744.2,171.03 748.6,169.9 C753,168.77 758.62,167.95 762.6,168.1 C766.58,168.25 770.37,169.87 772.5,170.8 C774.63,171.73 774.98,171.92 775.4,173.7 C775.82,175.48 776.03,178.97 775,181.5 C773.97,184.03 771.13,186.15 769.2,188.9 C767.27,191.65 764.77,194.83 763.4,198 C762.03,201.17 761.82,205.5 761,207.9 C760.18,210.3 759.47,211.58 758.5,212.4 C757.53,213.22 757.53,214.1 755.2,212.8 C752.87,211.5 747.52,207.48 744.5,204.6 C741.48,201.72 739.02,198.38 737.1,195.5 C735.18,192.62 733.83,189.37 733,187.3 C732.17,185.23 732.18,184.2 732.1,183.1 Z" fill="none" stroke="#a32ab3" stroke-width="1.1"/>
<path d="M762.59,168.06 L759.93,169.7 L759.68,166.91 Z" fill="#a32ab3"/>
<path d="M737.3,196.39 L734.69,194.66 L737.11,193.26 Z" fill="#a32ab3"/>
<circle cx="772.5" cy="203.5" r="1.5" fill="none" stroke="#a32ab3" stroke-width="0.8"/>
<g transform="translate(753,182.3) scale(0.55)" fill="none" stroke="#eceef2" stroke-width="1.45" stroke-linejoin="round" stroke-linecap="round"><path d="M0,-7.6 L7.6,5.6 H-7.6 Z"/><path d="M0,-2.4 V1.9" stroke-width="1.82"/><circle cx="0" cy="3.6" r="0.75" fill="#eceef2" stroke="none"/></g>
<text x="753" y="195.8" font-size="5.29" font-weight="700" fill="#eceef2" text-anchor="middle" textLength="18" lengthAdjust="spacingAndGlyphs" stroke="#eceef2" stroke-width="0.15" >STEP 02</text>
<text x="753" y="223.8" font-size="4.82" font-weight="400" fill="#d9dce2" text-anchor="middle" textLength="25" lengthAdjust="spacingAndGlyphs" stroke="#d9dce2" stroke-width="0.15" >Lorem ipsum</text>
<text x="753" y="227.8" font-size="4.82" font-weight="400" fill="#d9dce2" text-anchor="middle" textLength="28" lengthAdjust="spacingAndGlyphs" stroke="#d9dce2" stroke-width="0.15" >dolor sit amet,</text>
<text x="753" y="231.8" font-size="4.82" font-weight="400" fill="#d9dce2" text-anchor="middle" textLength="23" lengthAdjust="spacingAndGlyphs" stroke="#d9dce2" stroke-width="0.15" >consectetur</text>
<path d="M774.5,193.3 C774.5,192.48 774.2,192.1 775.4,190.6 C776.6,189.1 779.3,186.4 781.7,184.3 C784.1,182.2 786.8,180.1 789.8,178 C792.8,175.9 796.7,173.43 799.7,171.7 C802.7,169.97 805.55,168.38 807.8,167.6 C810.05,166.82 811.7,166.77 813.2,167 C814.7,167.23 816.08,168.07 816.8,169 C817.52,169.93 817.43,170.35 817.5,172.6 C817.57,174.85 817.62,178.9 817.2,182.5 C816.78,186.1 816.27,190.45 815,194.2 C813.73,197.95 811.7,201.85 809.6,205 C807.5,208.15 804.13,211.68 802.4,213.1 C800.67,214.52 800.25,214.55 799.2,213.5 C798.15,212.45 797.67,209.12 796.1,206.8 C794.53,204.48 792.2,201.25 789.8,199.6 C787.4,197.95 784.1,197.58 781.7,196.9 C779.3,196.22 776.6,196.1 775.4,195.5 C774.2,194.9 774.5,194.12 774.5,193.3 Z" fill="none" stroke="#3e93cb" stroke-width="1.1"/>
<path d="M791.03,177.17 L789.78,180.04 L787.98,177.9 Z" fill="#3e93cb"/>
<path d="M799.12,212.58 L798.23,209.58 L800.99,210.06 Z" fill="#3e93cb"/>
<circle cx="821.7" cy="207.2" r="1.5" fill="none" stroke="#3e93cb" stroke-width="0.8"/>
<g transform="translate(801.7,182.3) scale(0.55)" fill="none" stroke="#eceef2" stroke-width="1.45" stroke-linejoin="round" stroke-linecap="round"><circle cx="0" cy="0" r="6.3"/><text x="0" y="3.6" font-size="10.2" font-weight="700" text-anchor="middle" transform="scale(0.86,1)" fill="#eceef2" stroke="none">$</text></g>
<text x="801.7" y="195.8" font-size="5.29" font-weight="700" fill="#eceef2" text-anchor="middle" textLength="18" lengthAdjust="spacingAndGlyphs" stroke="#eceef2" stroke-width="0.15" >STEP 03</text>
<text x="801.7" y="223.8" font-size="4.82" font-weight="400" fill="#d9dce2" text-anchor="middle" textLength="25" lengthAdjust="spacingAndGlyphs" stroke="#d9dce2" stroke-width="0.15" >Lorem ipsum</text>
<text x="801.7" y="227.8" font-size="4.82" font-weight="400" fill="#d9dce2" text-anchor="middle" textLength="28" lengthAdjust="spacingAndGlyphs" stroke="#d9dce2" stroke-width="0.15" >dolor sit amet,</text>
<text x="801.7" y="231.8" font-size="4.82" font-weight="400" fill="#d9dce2" text-anchor="middle" textLength="23" lengthAdjust="spacingAndGlyphs" stroke="#d9dce2" stroke-width="0.15" >consectetur</text>
<path d="M825.4,181.8 C825.53,180.93 824.78,180 826.6,178.8 C828.42,177.6 832.18,175.6 836.3,174.6 C840.42,173.6 845.8,173.05 851.3,172.8 C856.8,172.55 865.55,172.6 869.3,173.1 C873.05,173.6 872.98,174.85 873.8,175.8 C874.62,176.75 874.45,177.05 874.2,178.8 C873.95,180.55 873.62,183.18 872.3,186.3 C870.98,189.42 868.55,194.38 866.3,197.5 C864.05,200.62 861.3,203.18 858.8,205 C856.3,206.82 854.17,207.4 851.3,208.4 C848.43,209.4 843.6,210.68 841.6,211 C839.6,211.32 839.8,211.55 839.3,210.3 C838.8,209.05 839.1,206.25 838.6,203.5 C838.1,200.75 837.68,196.42 836.3,193.8 C834.92,191.18 832.05,189.43 830.3,187.8 C828.55,186.17 826.62,185 825.8,184 C824.98,183 825.27,182.67 825.4,181.8 Z" fill="none" stroke="#3b5dc6" stroke-width="1.1"/>
<path d="M869.4,173.1 L866.6,174.5 L866.6,171.7 Z" fill="#3b5dc6"/>
<path d="M839.04,207.59 L837.4,204.93 L840.19,204.68 Z" fill="#3b5dc6"/>
<circle cx="868.8" cy="204.8" r="1.5" fill="none" stroke="#3b5dc6" stroke-width="0.8"/>
<g transform="translate(850.4,182.3) scale(0.55)" fill="none" stroke="#eceef2" stroke-width="1.45" stroke-linejoin="round" stroke-linecap="round"><circle cx="0" cy="0" r="6.9"/><circle cx="0" cy="0" r="4.3"/><circle cx="0" cy="0" r="1.7"/><path d="M0.3,-0.2 L8.0,-5.3"/><path d="M7.2,-7.6 L7.6,-5.2 L10.3,-4.8 L10.5,-6.6 L9.1,-7.0 L8.6,-8.6 Z" fill="#eceef2" stroke="none"/></g>
<text x="850.4" y="195.8" font-size="5.29" font-weight="700" fill="#eceef2" text-anchor="middle" textLength="18" lengthAdjust="spacingAndGlyphs" stroke="#eceef2" stroke-width="0.15" >STEP 04</text>
<text x="850.4" y="223.8" font-size="4.82" font-weight="400" fill="#d9dce2" text-anchor="middle" textLength="25" lengthAdjust="spacingAndGlyphs" stroke="#d9dce2" stroke-width="0.15" >Lorem ipsum</text>
<text x="850.4" y="227.8" font-size="4.82" font-weight="400" fill="#d9dce2" text-anchor="middle" textLength="28" lengthAdjust="spacingAndGlyphs" stroke="#d9dce2" stroke-width="0.15" >dolor sit amet,</text>
<text x="850.4" y="231.8" font-size="4.82" font-weight="400" fill="#d9dce2" text-anchor="middle" textLength="23" lengthAdjust="spacingAndGlyphs" stroke="#d9dce2" stroke-width="0.15" >consectetur</text>
<path d="M878.1,182.7 C878.02,181.6 877.82,181.67 878.5,180.3 C879.18,178.93 879.52,176.3 882.2,174.5 C884.88,172.7 890.2,170.63 894.6,169.5 C899,168.37 904.62,167.55 908.6,167.7 C912.58,167.85 916.37,169.47 918.5,170.4 C920.63,171.33 920.98,171.52 921.4,173.3 C921.82,175.08 922.03,178.57 921,181.1 C919.97,183.63 917.13,185.75 915.2,188.5 C913.27,191.25 910.77,194.43 909.4,197.6 C908.03,200.77 907.82,205.1 907,207.5 C906.18,209.9 905.47,211.18 904.5,212 C903.53,212.82 903.53,213.7 901.2,212.4 C898.87,211.1 893.52,207.08 890.5,204.2 C887.48,201.32 885.02,197.98 883.1,195.1 C881.18,192.22 879.83,188.97 879,186.9 C878.17,184.83 878.18,183.8 878.1,182.7 Z" fill="none" stroke="#7a5acf" stroke-width="1.1"/>
<path d="M908.59,167.66 L905.93,169.3 L905.68,166.51 Z" fill="#7a5acf"/>
<path d="M883.3,195.99 L880.69,194.26 L883.11,192.86 Z" fill="#7a5acf"/>
<circle cx="918.4" cy="203.2" r="1.5" fill="none" stroke="#7a5acf" stroke-width="0.8"/>
<g transform="translate(898.4,182.3) scale(0.55)" fill="none" stroke="#eceef2" stroke-width="1.45" stroke-linejoin="round" stroke-linecap="round"><path d="M0,-7.6 L7.6,5.6 H-7.6 Z"/><path d="M0,-2.4 V1.9" stroke-width="1.82"/><circle cx="0" cy="3.6" r="0.75" fill="#eceef2" stroke="none"/></g>
<text x="898.4" y="195.8" font-size="5.29" font-weight="700" fill="#eceef2" text-anchor="middle" textLength="18" lengthAdjust="spacingAndGlyphs" stroke="#eceef2" stroke-width="0.15" >STEP 05</text>
<text x="898.4" y="223.8" font-size="4.82" font-weight="400" fill="#d9dce2" text-anchor="middle" textLength="25" lengthAdjust="spacingAndGlyphs" stroke="#d9dce2" stroke-width="0.15" >Lorem ipsum</text>
<text x="898.4" y="227.8" font-size="4.82" font-weight="400" fill="#d9dce2" text-anchor="middle" textLength="28" lengthAdjust="spacingAndGlyphs" stroke="#d9dce2" stroke-width="0.15" >dolor sit amet,</text>
<text x="898.4" y="231.8" font-size="4.82" font-weight="400" fill="#d9dce2" text-anchor="middle" textLength="23" lengthAdjust="spacingAndGlyphs" stroke="#d9dce2" stroke-width="0.15" >consectetur</text>
<path d="M920.5,193.3 C920.5,192.48 920.2,192.1 921.4,190.6 C922.6,189.1 925.3,186.4 927.7,184.3 C930.1,182.2 932.8,180.1 935.8,178 C938.8,175.9 942.7,173.43 945.7,171.7 C948.7,169.97 951.55,168.38 953.8,167.6 C956.05,166.82 957.7,166.77 959.2,167 C960.7,167.23 962.08,168.07 962.8,169 C963.52,169.93 963.43,170.35 963.5,172.6 C963.57,174.85 963.62,178.9 963.2,182.5 C962.78,186.1 962.27,190.45 961,194.2 C959.73,197.95 957.7,201.85 955.6,205 C953.5,208.15 950.13,211.68 948.4,213.1 C946.67,214.52 946.25,214.55 945.2,213.5 C944.15,212.45 943.67,209.12 942.1,206.8 C940.53,204.48 938.2,201.25 935.8,199.6 C933.4,197.95 930.1,197.58 927.7,196.9 C925.3,196.22 922.6,196.1 921.4,195.5 C920.2,194.9 920.5,194.12 920.5,193.3 Z" fill="none" stroke="#4a32c8" stroke-width="1.1"/>
<path d="M937.03,177.17 L935.78,180.04 L933.98,177.9 Z" fill="#4a32c8"/>
<path d="M945.12,212.58 L944.23,209.58 L946.99,210.06 Z" fill="#4a32c8"/>
<circle cx="968" cy="207.2" r="1.5" fill="none" stroke="#4a32c8" stroke-width="0.8"/>
<g transform="translate(947.2,182.3) scale(0.55)" fill="none" stroke="#eceef2" stroke-width="1.45" stroke-linejoin="round" stroke-linecap="round"><circle cx="0" cy="0" r="6.3"/><text x="0" y="3.6" font-size="10.2" font-weight="700" text-anchor="middle" transform="scale(0.86,1)" fill="#eceef2" stroke="none">$</text></g>
<text x="947.2" y="195.8" font-size="5.29" font-weight="700" fill="#eceef2" text-anchor="middle" textLength="18" lengthAdjust="spacingAndGlyphs" stroke="#eceef2" stroke-width="0.15" >STEP 06</text>
<text x="947.2" y="223.8" font-size="4.82" font-weight="400" fill="#d9dce2" text-anchor="middle" textLength="25" lengthAdjust="spacingAndGlyphs" stroke="#d9dce2" stroke-width="0.15" >Lorem ipsum</text>
<text x="947.2" y="227.8" font-size="4.82" font-weight="400" fill="#d9dce2" text-anchor="middle" textLength="28" lengthAdjust="spacingAndGlyphs" stroke="#d9dce2" stroke-width="0.15" >dolor sit amet,</text>
<text x="947.2" y="231.8" font-size="4.82" font-weight="400" fill="#d9dce2" text-anchor="middle" textLength="23" lengthAdjust="spacingAndGlyphs" stroke="#d9dce2" stroke-width="0.15" >consectetur</text>
<circle cx="88.3" cy="383.3" r="36.4" fill="#cc2a82" filter="url(#shR)"/>
<circle cx="91.5" cy="385.1" r="29.8" fill="#000" opacity="0.42" filter="url(#blur2)"/>
<circle cx="88.3" cy="383.3" r="28.6" fill="#252e3d"/>
<path d="M57.3,369.8 L70.7,383.1 L57.3,394.3 Z" fill="#cc2a82"/>
<path d="M57.3,369.5 L70.5,382.7" stroke="#000" stroke-opacity="0.45" stroke-width="1.2"/>
<g transform="translate(87.5,382.8) scale(1.3)" fill="none" stroke="#eceef2" stroke-width="1.12" stroke-linejoin="round" stroke-linecap="round"><path d="M0,-7.6 L7.6,5.6 H-7.6 Z"/><path d="M0,-2.4 V1.9" stroke-width="1.39"/><circle cx="0" cy="3.6" r="0.75" fill="#eceef2" stroke="none"/></g>
<rect x="63.9" y="326.2" width="48.8" height="12.8" rx="6.4" fill="#cc2a82"/>
<text x="88.3" y="336.1" font-size="9.89" font-weight="700" fill="#262a40" text-anchor="middle" textLength="31" lengthAdjust="spacingAndGlyphs" stroke="#262a40" stroke-width="0.1" >STEP 01</text>
<text x="88.3" y="431.6" font-size="7.17" font-weight="400" fill="#e3e5ea" text-anchor="middle" textLength="42.3" lengthAdjust="spacingAndGlyphs" stroke="#e3e5ea" stroke-width="0.15" >Lorem ipsum</text>
<text x="88.3" y="438.5" font-size="7.17" font-weight="400" fill="#e3e5ea" text-anchor="middle" textLength="45.9" lengthAdjust="spacingAndGlyphs" stroke="#e3e5ea" stroke-width="0.15" >dolor sit amet,</text>
<text x="88.3" y="444.9" font-size="7.17" font-weight="400" fill="#e3e5ea" text-anchor="middle" textLength="37.8" lengthAdjust="spacingAndGlyphs" stroke="#e3e5ea" stroke-width="0.15" >consectetur</text>
<circle cx="170.1" cy="383.3" r="36.4" fill="#a52bb7" filter="url(#shR)"/>
<circle cx="173.3" cy="385.1" r="29.8" fill="#000" opacity="0.42" filter="url(#blur2)"/>
<circle cx="170.1" cy="383.3" r="28.6" fill="#252e3d"/>
<path d="M139.1,369.8 L152.5,383.1 L139.1,394.3 Z" fill="#a52bb7"/>
<path d="M139.1,369.5 L152.3,382.7" stroke="#000" stroke-opacity="0.45" stroke-width="1.2"/>
<g transform="translate(170.3,381.3) scale(1.55)" fill="none" stroke="#eceef2" stroke-width="0.94" stroke-linejoin="round" stroke-linecap="round"><circle cx="0" cy="0" r="6.3"/><text x="0" y="3.6" font-size="10.2" font-weight="700" text-anchor="middle" transform="scale(0.86,1)" fill="#eceef2" stroke="none">$</text></g>
<rect x="145.7" y="326.2" width="48.8" height="12.8" rx="6.4" fill="#a52bb7"/>
<text x="170.1" y="336.1" font-size="9.89" font-weight="700" fill="#262a40" text-anchor="middle" textLength="31" lengthAdjust="spacingAndGlyphs" stroke="#262a40" stroke-width="0.1" >STEP 02</text>
<text x="170.1" y="431.6" font-size="7.17" font-weight="400" fill="#e3e5ea" text-anchor="middle" textLength="42.3" lengthAdjust="spacingAndGlyphs" stroke="#e3e5ea" stroke-width="0.15" >Lorem ipsum</text>
<text x="170.1" y="438.5" font-size="7.17" font-weight="400" fill="#e3e5ea" text-anchor="middle" textLength="45.9" lengthAdjust="spacingAndGlyphs" stroke="#e3e5ea" stroke-width="0.15" >dolor sit amet,</text>
<text x="170.1" y="444.9" font-size="7.17" font-weight="400" fill="#e3e5ea" text-anchor="middle" textLength="37.8" lengthAdjust="spacingAndGlyphs" stroke="#e3e5ea" stroke-width="0.15" >consectetur</text>
<circle cx="252.3" cy="383.3" r="36.4" fill="#3e93cb" filter="url(#shR)"/>
<circle cx="255.5" cy="385.1" r="29.8" fill="#000" opacity="0.42" filter="url(#blur2)"/>
<circle cx="252.3" cy="383.3" r="28.6" fill="#252e3d"/>
<path d="M221.3,369.8 L234.7,383.1 L221.3,394.3 Z" fill="#3e93cb"/>
<path d="M221.3,369.5 L234.5,382.7" stroke="#000" stroke-opacity="0.45" stroke-width="1.2"/>
<g transform="translate(251.9,381.7) scale(1.42)" fill="none" stroke="#eceef2" stroke-width="1.02" stroke-linejoin="round" stroke-linecap="round"><circle cx="0" cy="0" r="6.9"/><circle cx="0" cy="0" r="4.3"/><circle cx="0" cy="0" r="1.7"/><path d="M0.3,-0.2 L8.0,-5.3"/><path d="M7.2,-7.6 L7.6,-5.2 L10.3,-4.8 L10.5,-6.6 L9.1,-7.0 L8.6,-8.6 Z" fill="#eceef2" stroke="none"/></g>
<rect x="227.9" y="326.2" width="48.8" height="12.8" rx="6.4" fill="#3e93cb"/>
<text x="252.3" y="336.1" font-size="9.89" font-weight="700" fill="#262a40" text-anchor="middle" textLength="31" lengthAdjust="spacingAndGlyphs" stroke="#262a40" stroke-width="0.1" >STEP 03</text>
<text x="252.3" y="431.6" font-size="7.17" font-weight="400" fill="#e3e5ea" text-anchor="middle" textLength="42.3" lengthAdjust="spacingAndGlyphs" stroke="#e3e5ea" stroke-width="0.15" >Lorem ipsum</text>
<text x="252.3" y="438.5" font-size="7.17" font-weight="400" fill="#e3e5ea" text-anchor="middle" textLength="45.9" lengthAdjust="spacingAndGlyphs" stroke="#e3e5ea" stroke-width="0.15" >dolor sit amet,</text>
<text x="252.3" y="444.9" font-size="7.17" font-weight="400" fill="#e3e5ea" text-anchor="middle" textLength="37.8" lengthAdjust="spacingAndGlyphs" stroke="#e3e5ea" stroke-width="0.15" >consectetur</text>
<circle cx="598.5" cy="388.7" r="28.3" fill="#7c5cd2" filter="url(#shL)"/>
<circle cx="549.3" cy="388.7" r="28.3" fill="#3c5ec8" filter="url(#shL)"/>
<circle cx="500.7" cy="388.7" r="28.3" fill="#3f96cc" filter="url(#shL)"/>
<circle cx="451.8" cy="388.7" r="28.3" fill="#a92bb8" filter="url(#shL)"/>
<circle cx="403.3" cy="388.7" r="28.3" fill="#d02a85" filter="url(#shL)"/>
<path d="M382.75,375.36 A24.5,24.5 0 0 1 424.3,376.08" fill="none" stroke="#262a40" stroke-width="1.1"/>
<path d="M425.3,377.8 L422.63,376.04 L425.11,374.61 Z" fill="none" stroke="#262a40" stroke-width="0.8" stroke-linejoin="round"/>
<g transform="translate(403.3,388.5) scale(0.9)" fill="none" stroke="#262a40" stroke-width="1.33" stroke-linejoin="round" stroke-linecap="round"><circle cx="0" cy="0" r="7"/><ellipse cx="0" cy="0" rx="3.4" ry="7"/><path d="M0,-7 V7 M-6.6,-2.2 H6.6 M-6.6,2.2 H6.6"/></g>
<rect x="386.3" y="345.6" width="34" height="8.6" rx="4.3" fill="#2d3547"/>
<text x="403.3" y="352" font-size="6.44" font-weight="700" fill="#d02a85" text-anchor="middle" textLength="24" lengthAdjust="spacingAndGlyphs" stroke="#d02a85" stroke-width="0.15" >STEP 01</text>
<text x="403.3" y="428.6" font-size="5.6" font-weight="400" fill="#dfe2e7" text-anchor="middle" textLength="33" lengthAdjust="spacingAndGlyphs" stroke="#dfe2e7" stroke-width="0.15" >Lorem ipsum</text>
<text x="403.3" y="433.7" font-size="5.6" font-weight="400" fill="#dfe2e7" text-anchor="middle" textLength="36" lengthAdjust="spacingAndGlyphs" stroke="#dfe2e7" stroke-width="0.15" >dolor sit amet,</text>
<text x="403.3" y="438.8" font-size="5.6" font-weight="400" fill="#dfe2e7" text-anchor="middle" textLength="30" lengthAdjust="spacingAndGlyphs" stroke="#dfe2e7" stroke-width="0.15" >consectetur</text>
<path d="M473.23,400.58 A24.5,24.5 0 0 1 431.25,402.04" fill="none" stroke="#262a40" stroke-width="1.1"/>
<path d="M474.16,398.82 L474.08,402.02 L471.56,400.68 Z" fill="none" stroke="#262a40" stroke-width="0.8" stroke-linejoin="round"/>
<g transform="translate(451.8,388.5) scale(0.9)" fill="none" stroke="#262a40" stroke-width="1.33" stroke-linejoin="round" stroke-linecap="round"><circle cx="0" cy="-4.2" r="3.1"/><path d="M-4.2,1.4 Q0,2.8 4.2,1.4 L5.6,7.4 H-5.6 Z"/></g>
<rect x="434.8" y="345.6" width="34" height="8.6" rx="4.3" fill="#2d3547"/>
<text x="451.8" y="352" font-size="6.44" font-weight="700" fill="#a92bb8" text-anchor="middle" textLength="24" lengthAdjust="spacingAndGlyphs" stroke="#a92bb8" stroke-width="0.15" >STEP 02</text>
<text x="451.8" y="428.6" font-size="5.6" font-weight="400" fill="#dfe2e7" text-anchor="middle" textLength="33" lengthAdjust="spacingAndGlyphs" stroke="#dfe2e7" stroke-width="0.15" >Lorem ipsum</text>
<text x="451.8" y="433.7" font-size="5.6" font-weight="400" fill="#dfe2e7" text-anchor="middle" textLength="36" lengthAdjust="spacingAndGlyphs" stroke="#dfe2e7" stroke-width="0.15" >dolor sit amet,</text>
<text x="451.8" y="438.8" font-size="5.6" font-weight="400" fill="#dfe2e7" text-anchor="middle" textLength="30" lengthAdjust="spacingAndGlyphs" stroke="#dfe2e7" stroke-width="0.15" >consectetur</text>
<path d="M480.15,375.36 A24.5,24.5 0 0 1 521.7,376.08" fill="none" stroke="#262a40" stroke-width="1.1"/>
<path d="M522.7,377.8 L520.03,376.04 L522.51,374.61 Z" fill="none" stroke="#262a40" stroke-width="0.8" stroke-linejoin="round"/>
<g transform="translate(500.7,388.5) scale(0.9)" fill="none" stroke="#262a40" stroke-width="1.33" stroke-linejoin="round" stroke-linecap="round"><path d="M0,-7.6 L7.6,5.6 H-7.6 Z"/><path d="M0,-2.4 V1.9" stroke-width="1.67"/><circle cx="0" cy="3.6" r="0.75" fill="#262a40" stroke="none"/></g>
<rect x="483.7" y="345.6" width="34" height="8.6" rx="4.3" fill="#2d3547"/>
<text x="500.7" y="352" font-size="6.44" font-weight="700" fill="#3f96cc" text-anchor="middle" textLength="24" lengthAdjust="spacingAndGlyphs" stroke="#3f96cc" stroke-width="0.15" >STEP 03</text>
<text x="500.7" y="428.6" font-size="5.6" font-weight="400" fill="#dfe2e7" text-anchor="middle" textLength="33" lengthAdjust="spacingAndGlyphs" stroke="#dfe2e7" stroke-width="0.15" >Lorem ipsum</text>
<text x="500.7" y="433.7" font-size="5.6" font-weight="400" fill="#dfe2e7" text-anchor="middle" textLength="36" lengthAdjust="spacingAndGlyphs" stroke="#dfe2e7" stroke-width="0.15" >dolor sit amet,</text>
<text x="500.7" y="438.8" font-size="5.6" font-weight="400" fill="#dfe2e7" text-anchor="middle" textLength="30" lengthAdjust="spacingAndGlyphs" stroke="#dfe2e7" stroke-width="0.15" >consectetur</text>
<path d="M570.73,400.58 A24.5,24.5 0 0 1 528.75,402.04" fill="none" stroke="#262a40" stroke-width="1.1"/>
<path d="M571.66,398.82 L571.58,402.02 L569.06,400.68 Z" fill="none" stroke="#262a40" stroke-width="0.8" stroke-linejoin="round"/>
<g transform="translate(549.3,388.5) scale(0.9)" fill="none" stroke="#262a40" stroke-width="1.33" stroke-linejoin="round" stroke-linecap="round"><circle cx="0" cy="0" r="6.3"/><text x="0" y="3.6" font-size="10.2" font-weight="700" text-anchor="middle" transform="scale(0.86,1)" fill="#262a40" stroke="none">$</text></g>
<rect x="532.3" y="345.6" width="34" height="8.6" rx="4.3" fill="#2d3547"/>
<text x="549.3" y="352" font-size="6.44" font-weight="700" fill="#3c5ec8" text-anchor="middle" textLength="24" lengthAdjust="spacingAndGlyphs" stroke="#3c5ec8" stroke-width="0.15" >STEP 04</text>
<text x="549.3" y="428.6" font-size="5.6" font-weight="400" fill="#dfe2e7" text-anchor="middle" textLength="33" lengthAdjust="spacingAndGlyphs" stroke="#dfe2e7" stroke-width="0.15" >Lorem ipsum</text>
<text x="549.3" y="433.7" font-size="5.6" font-weight="400" fill="#dfe2e7" text-anchor="middle" textLength="36" lengthAdjust="spacingAndGlyphs" stroke="#dfe2e7" stroke-width="0.15" >dolor sit amet,</text>
<text x="549.3" y="438.8" font-size="5.6" font-weight="400" fill="#dfe2e7" text-anchor="middle" textLength="30" lengthAdjust="spacingAndGlyphs" stroke="#dfe2e7" stroke-width="0.15" >consectetur</text>
<path d="M577.95,375.36 A24.5,24.5 0 0 1 619.5,376.08" fill="none" stroke="#262a40" stroke-width="1.1"/>
<path d="M620.5,377.8 L617.83,376.04 L620.31,374.61 Z" fill="none" stroke="#262a40" stroke-width="0.8" stroke-linejoin="round"/>
<g transform="translate(598.5,388.5) scale(0.9)" fill="none" stroke="#262a40" stroke-width="1.33" stroke-linejoin="round" stroke-linecap="round"><circle cx="0" cy="0" r="6.9"/><circle cx="0" cy="0" r="4.3"/><circle cx="0" cy="0" r="1.7"/><path d="M0.3,-0.2 L8.0,-5.3"/><path d="M7.2,-7.6 L7.6,-5.2 L10.3,-4.8 L10.5,-6.6 L9.1,-7.0 L8.6,-8.6 Z" fill="#262a40" stroke="none"/></g>
<rect x="581.5" y="345.6" width="34" height="8.6" rx="4.3" fill="#2d3547"/>
<text x="598.5" y="352" font-size="6.44" font-weight="700" fill="#7c5cd2" text-anchor="middle" textLength="24" lengthAdjust="spacingAndGlyphs" stroke="#7c5cd2" stroke-width="0.15" >STEP 05</text>
<text x="598.5" y="428.6" font-size="5.6" font-weight="400" fill="#dfe2e7" text-anchor="middle" textLength="33" lengthAdjust="spacingAndGlyphs" stroke="#dfe2e7" stroke-width="0.15" >Lorem ipsum</text>
<text x="598.5" y="433.7" font-size="5.6" font-weight="400" fill="#dfe2e7" text-anchor="middle" textLength="36" lengthAdjust="spacingAndGlyphs" stroke="#dfe2e7" stroke-width="0.15" >dolor sit amet,</text>
<text x="598.5" y="438.8" font-size="5.6" font-weight="400" fill="#dfe2e7" text-anchor="middle" textLength="30" lengthAdjust="spacingAndGlyphs" stroke="#dfe2e7" stroke-width="0.15" >consectetur</text>
<circle cx="712.7" cy="371.2" r="20" fill="url(#gSphere)" filter="url(#shD)"/>
<circle cx="768.5" cy="371.2" r="20" fill="url(#gSphere)" filter="url(#shD)"/>
<circle cx="824" cy="371.2" r="20" fill="url(#gSphere)" filter="url(#shD)"/>
<circle cx="879.6" cy="371.2" r="20" fill="url(#gSphere)" filter="url(#shD)"/>
<circle cx="935.3" cy="371.2" r="20" fill="url(#gSphere)" filter="url(#shD)"/>
<path d="M689.7,371.3 A23,23 0 0 0 735.61,373.3" fill="none" stroke="#cc2a82" stroke-width="4.5"/>
<path d="M745.63,372.7 A23,23 0 0 1 791.41,368.3" fill="none" stroke="#a52bb7" stroke-width="4.5"/>
<path d="M801.09,369.3 A23,23 0 0 0 846.91,373.3" fill="none" stroke="#3e93cb" stroke-width="4.5"/>
<path d="M856.73,372.7 A23,23 0 0 1 902.51,368.3" fill="none" stroke="#3b5dc6" stroke-width="4.5"/>
<path d="M912.39,369.3 A23,23 0 0 0 958.27,372.5" fill="none" stroke="#7a5acf" stroke-width="4.5"/>
<path d="M734.81,373 L746.63,373" fill="none" stroke="#cc2a82" stroke-width="4.5"/>
<path d="M790.61,368.8 L802.09,368.8" fill="none" stroke="#a52bb7" stroke-width="4.5"/>
<path d="M846.11,373 L857.73,373" fill="none" stroke="#3e93cb" stroke-width="4.5"/>
<path d="M901.71,368.8 L913.39,368.8" fill="none" stroke="#3b5dc6" stroke-width="4.5"/>
<g transform="translate(712.7,371.4) scale(1)" fill="none" stroke="#eceef2" stroke-width="1.1" stroke-linejoin="round" stroke-linecap="round"><path d="M-2.7,4.0 C-2.7,2.9 -5.6,1.6 -5.6,-0.8 A5.6,5.6 0 1 1 5.6,-0.8 C5.6,1.6 2.7,2.9 2.7,4.0 Z"/><path d="M-2.7,4.0 V6.6 Q-2.7,7.1 -2.2,7.1 H2.2 Q2.7,7.1 2.7,6.6 V4.0"/><path d="M-2.7,5.5 H2.7"/><path d="M0.9,-4.4 L-1.8,-0.6 H-0.1 L-0.9,2.0 L1.7,-1.6 H0.1 Z" fill="#eceef2" stroke="none"/></g>
<text x="712.7" y="412.4" font-size="6.09" font-weight="700" fill="#eceef2" text-anchor="middle" textLength="34.5" lengthAdjust="spacingAndGlyphs" stroke="#eceef2" stroke-width="0.15" >INFODATA 01</text>
<text x="712.7" y="420.2" font-size="5.15" font-weight="400" fill="#d9dce2" text-anchor="middle" textLength="44.9" lengthAdjust="spacingAndGlyphs" stroke="#d9dce2" stroke-width="0.15" >Lorem ipsum dolor</text>
<text x="712.7" y="425.2" font-size="5.15" font-weight="400" fill="#d9dce2" text-anchor="middle" textLength="43" lengthAdjust="spacingAndGlyphs" stroke="#d9dce2" stroke-width="0.15" >sit amet, consecte-</text>
<text x="712.7" y="430.1" font-size="5.15" font-weight="400" fill="#d9dce2" text-anchor="middle" textLength="41.5" lengthAdjust="spacingAndGlyphs" stroke="#d9dce2" stroke-width="0.15" >tur adipiscing elit,</text>
<g transform="translate(768.5,371.2) scale(1.05)" fill="none" stroke="#eceef2" stroke-width="1.05" stroke-linejoin="round" stroke-linecap="round"><circle cx="0" cy="0" r="7"/><ellipse cx="0" cy="0" rx="3.4" ry="7"/><path d="M0,-7 V7 M-6.6,-2.2 H6.6 M-6.6,2.2 H6.6"/></g>
<text x="768.5" y="412.4" font-size="6.09" font-weight="700" fill="#eceef2" text-anchor="middle" textLength="34.5" lengthAdjust="spacingAndGlyphs" stroke="#eceef2" stroke-width="0.15" >INFODATA 02</text>
<text x="768.5" y="420.2" font-size="5.15" font-weight="400" fill="#d9dce2" text-anchor="middle" textLength="44.9" lengthAdjust="spacingAndGlyphs" stroke="#d9dce2" stroke-width="0.15" >Lorem ipsum dolor</text>
<text x="768.5" y="425.2" font-size="5.15" font-weight="400" fill="#d9dce2" text-anchor="middle" textLength="43" lengthAdjust="spacingAndGlyphs" stroke="#d9dce2" stroke-width="0.15" >sit amet, consecte-</text>
<text x="768.5" y="430.1" font-size="5.15" font-weight="400" fill="#d9dce2" text-anchor="middle" textLength="41.5" lengthAdjust="spacingAndGlyphs" stroke="#d9dce2" stroke-width="0.15" >tur adipiscing elit,</text>
<g transform="translate(824,370.9) scale(1.05)" fill="none" stroke="#eceef2" stroke-width="1.05" stroke-linejoin="round" stroke-linecap="round"><path d="M0,-7.6 L7.6,5.6 H-7.6 Z"/><path d="M0,-2.4 V1.9" stroke-width="1.31"/><circle cx="0" cy="3.6" r="0.75" fill="#eceef2" stroke="none"/></g>
<text x="824" y="412.4" font-size="6.09" font-weight="700" fill="#eceef2" text-anchor="middle" textLength="34.5" lengthAdjust="spacingAndGlyphs" stroke="#eceef2" stroke-width="0.15" >INFODATA 03</text>
<text x="824" y="420.2" font-size="5.15" font-weight="400" fill="#d9dce2" text-anchor="middle" textLength="44.9" lengthAdjust="spacingAndGlyphs" stroke="#d9dce2" stroke-width="0.15" >Lorem ipsum dolor</text>
<text x="824" y="425.2" font-size="5.15" font-weight="400" fill="#d9dce2" text-anchor="middle" textLength="43" lengthAdjust="spacingAndGlyphs" stroke="#d9dce2" stroke-width="0.15" >sit amet, consecte-</text>
<text x="824" y="430.1" font-size="5.15" font-weight="400" fill="#d9dce2" text-anchor="middle" textLength="41.5" lengthAdjust="spacingAndGlyphs" stroke="#d9dce2" stroke-width="0.15" >tur adipiscing elit,</text>
<g transform="translate(879.6,370.9) scale(1.1)" fill="none" stroke="#eceef2" stroke-width="1" stroke-linejoin="round" stroke-linecap="round"><circle cx="0" cy="-4.2" r="3.1"/><path d="M-4.2,1.4 Q0,2.8 4.2,1.4 L5.6,7.4 H-5.6 Z"/></g>
<text x="879.6" y="412.4" font-size="6.09" font-weight="700" fill="#eceef2" text-anchor="middle" textLength="34.5" lengthAdjust="spacingAndGlyphs" stroke="#eceef2" stroke-width="0.15" >INFODATA 04</text>
<text x="879.6" y="420.2" font-size="5.15" font-weight="400" fill="#d9dce2" text-anchor="middle" textLength="44.9" lengthAdjust="spacingAndGlyphs" stroke="#d9dce2" stroke-width="0.15" >Lorem ipsum dolor</text>
<text x="879.6" y="425.2" font-size="5.15" font-weight="400" fill="#d9dce2" text-anchor="middle" textLength="43" lengthAdjust="spacingAndGlyphs" stroke="#d9dce2" stroke-width="0.15" >sit amet, consecte-</text>
<text x="879.6" y="430.1" font-size="5.15" font-weight="400" fill="#d9dce2" text-anchor="middle" textLength="41.5" lengthAdjust="spacingAndGlyphs" stroke="#d9dce2" stroke-width="0.15" >tur adipiscing elit,</text>
<g transform="translate(935.3,370.9) scale(1.12)" fill="none" stroke="#eceef2" stroke-width="0.98" stroke-linejoin="round" stroke-linecap="round"><circle cx="0" cy="0" r="6.3"/><text x="0" y="3.6" font-size="10.2" font-weight="700" text-anchor="middle" transform="scale(0.86,1)" fill="#eceef2" stroke="none">$</text></g>
<text x="935.3" y="412.4" font-size="6.09" font-weight="700" fill="#eceef2" text-anchor="middle" textLength="34.5" lengthAdjust="spacingAndGlyphs" stroke="#eceef2" stroke-width="0.15" >INFODATA 05</text>
<text x="935.3" y="420.2" font-size="5.15" font-weight="400" fill="#d9dce2" text-anchor="middle" textLength="44.9" lengthAdjust="spacingAndGlyphs" stroke="#d9dce2" stroke-width="0.15" >Lorem ipsum dolor</text>
<text x="935.3" y="425.2" font-size="5.15" font-weight="400" fill="#d9dce2" text-anchor="middle" textLength="43" lengthAdjust="spacingAndGlyphs" stroke="#d9dce2" stroke-width="0.15" >sit amet, consecte-</text>
<text x="935.3" y="430.1" font-size="5.15" font-weight="400" fill="#d9dce2" text-anchor="middle" textLength="41.5" lengthAdjust="spacingAndGlyphs" stroke="#d9dce2" stroke-width="0.15" >tur adipiscing elit,</text>
<path d="M50.85,565.6 A26.75,26.75 0 0 1 104.35,565.6" fill="none" stroke="#cc2a82" stroke-width="7.5"/>
<path d="M111.55,565.6 A26.75,26.75 0 0 0 165.05,565.6" fill="none" stroke="#a52bb7" stroke-width="7.5"/>
<path d="M172.25,565.6 A26.75,26.75 0 0 1 225.75,565.6" fill="none" stroke="#3b66cc" stroke-width="7.5"/>
<path d="M232.85,565.6 A26.75,26.75 0 0 0 286.35,565.6" fill="none" stroke="#5530c8" stroke-width="7.5"/>
<circle cx="77.6" cy="565.6" r="21.8" fill="url(#gDisk)" filter="url(#shD)"/>
<path d="M96.91,568.31 A19.5,19.5 0 0 1 58.29,568.31" fill="none" stroke="#cc2a82" stroke-width="0.9" />
<g transform="translate(78,565.9) scale(1.05)" fill="none" stroke="#eceef2" stroke-width="1.05" stroke-linejoin="round" stroke-linecap="round"><path d="M-4.6,-3.9 A6.0,6.0 0 0 1 5.2,2.9"/><path d="M4.6,3.9 A6.0,6.0 0 0 1 -5.2,-2.9"/><path d="M-7.6,-3.4 L-3.6,-5.6 L-4.0,-1.8 Z" fill="#eceef2" stroke="none"/><path d="M7.6,3.4 L3.6,5.6 L4.0,1.8 Z" fill="#eceef2" stroke="none"/></g>
<circle cx="138.3" cy="565.6" r="21.8" fill="url(#gDisk)" filter="url(#shD)"/>
<path d="M118.99,562.89 A19.5,19.5 0 0 1 157.61,562.89" fill="none" stroke="#a52bb7" stroke-width="0.9" />
<g transform="translate(138.5,565.6) scale(1.08)" fill="none" stroke="#eceef2" stroke-width="1.02" stroke-linejoin="round" stroke-linecap="round"><path d="M-5.5,7.2 V-2.2 Q-5.5,-7.2 -0.4,-7.2 Q4.5,-7.2 4.5,-2.4 V0.4 L5.7,2.2 L2.9,4.7 L2.2,7.2 Z"/></g>
<circle cx="199" cy="565.6" r="21.8" fill="url(#gDisk)" filter="url(#shD)"/>
<path d="M218.31,568.31 A19.5,19.5 0 0 1 179.69,568.31" fill="none" stroke="#3b66cc" stroke-width="0.9" />
<g transform="translate(199,565.6) scale(1)" fill="none" stroke="#eceef2" stroke-width="1.1" stroke-linejoin="round" stroke-linecap="round"><circle cx="0" cy="0" r="6.3"/><text x="0" y="3.6" font-size="10.2" font-weight="700" text-anchor="middle" transform="scale(0.86,1)" fill="#eceef2" stroke="none">$</text></g>
<circle cx="259.6" cy="565.6" r="21.8" fill="url(#gDisk)" filter="url(#shD)"/>
<path d="M240.29,562.89 A19.5,19.5 0 0 1 278.91,562.89" fill="none" stroke="#5530c8" stroke-width="0.9" />
<g transform="translate(259.6,565.6) scale(1)" fill="none" stroke="#eceef2" stroke-width="1.1" stroke-linejoin="round" stroke-linecap="round"><circle cx="0" cy="0" r="6.9"/><circle cx="0" cy="0" r="4.3"/><circle cx="0" cy="0" r="1.7"/><path d="M0.3,-0.2 L8.0,-5.3"/><path d="M7.2,-7.6 L7.6,-5.2 L10.3,-4.8 L10.5,-6.6 L9.1,-7.0 L8.6,-8.6 Z" fill="#eceef2" stroke="none"/></g>
<text x="145.8" y="507.7" font-size="5.86" font-weight="700" fill="#eceef2" text-anchor="middle" textLength="34" lengthAdjust="spacingAndGlyphs" stroke="#eceef2" stroke-width="0.15" >INFODATA 02</text>
<text x="145.8" y="516.4" font-size="4.7" font-weight="400" fill="#d9dce2" text-anchor="middle" textLength="37.5" lengthAdjust="spacingAndGlyphs" stroke="#d9dce2" stroke-width="0.15" >Lorem ipsum dolor</text>
<text x="145.8" y="520.6" font-size="4.7" font-weight="400" fill="#d9dce2" text-anchor="middle" textLength="41.5" lengthAdjust="spacingAndGlyphs" stroke="#d9dce2" stroke-width="0.15" >sit amet, consectetur</text>
<text x="145.8" y="524.7" font-size="4.7" font-weight="400" fill="#d9dce2" text-anchor="middle" textLength="37.5" lengthAdjust="spacingAndGlyphs" stroke="#d9dce2" stroke-width="0.15" >adipiscing elit, sed</text>
<text x="282.5" y="507.7" font-size="5.86" font-weight="700" fill="#eceef2" text-anchor="middle" textLength="34" lengthAdjust="spacingAndGlyphs" stroke="#eceef2" stroke-width="0.15" >INFODATA 04</text>
<text x="282.5" y="516.4" font-size="4.7" font-weight="400" fill="#d9dce2" text-anchor="middle" textLength="37.5" lengthAdjust="spacingAndGlyphs" stroke="#d9dce2" stroke-width="0.15" >Lorem ipsum dolor</text>
<text x="282.5" y="520.6" font-size="4.7" font-weight="400" fill="#d9dce2" text-anchor="middle" textLength="41.5" lengthAdjust="spacingAndGlyphs" stroke="#d9dce2" stroke-width="0.15" >sit amet, consectetur</text>
<text x="282.5" y="524.7" font-size="4.7" font-weight="400" fill="#d9dce2" text-anchor="middle" textLength="37.5" lengthAdjust="spacingAndGlyphs" stroke="#d9dce2" stroke-width="0.15" >adipiscing elit, sed</text>
<text x="77.4" y="618.4" font-size="5.86" font-weight="700" fill="#eceef2" text-anchor="middle" textLength="34" lengthAdjust="spacingAndGlyphs" stroke="#eceef2" stroke-width="0.15" >INFODATA 01</text>
<text x="77.4" y="627.1" font-size="4.7" font-weight="400" fill="#d9dce2" text-anchor="middle" textLength="37.5" lengthAdjust="spacingAndGlyphs" stroke="#d9dce2" stroke-width="0.15" >Lorem ipsum dolor</text>
<text x="77.4" y="631.3" font-size="4.7" font-weight="400" fill="#d9dce2" text-anchor="middle" textLength="41.5" lengthAdjust="spacingAndGlyphs" stroke="#d9dce2" stroke-width="0.15" >sit amet, consectetur</text>
<text x="77.4" y="635.4" font-size="4.7" font-weight="400" fill="#d9dce2" text-anchor="middle" textLength="37.5" lengthAdjust="spacingAndGlyphs" stroke="#d9dce2" stroke-width="0.15" >adipiscing elit, sed</text>
<text x="214.1" y="618.4" font-size="5.86" font-weight="700" fill="#eceef2" text-anchor="middle" textLength="34" lengthAdjust="spacingAndGlyphs" stroke="#eceef2" stroke-width="0.15" >INFODATA 03</text>
<text x="214.1" y="627.1" font-size="4.7" font-weight="400" fill="#d9dce2" text-anchor="middle" textLength="37.5" lengthAdjust="spacingAndGlyphs" stroke="#d9dce2" stroke-width="0.15" >Lorem ipsum dolor</text>
<text x="214.1" y="631.3" font-size="4.7" font-weight="400" fill="#d9dce2" text-anchor="middle" textLength="41.5" lengthAdjust="spacingAndGlyphs" stroke="#d9dce2" stroke-width="0.15" >sit amet, consectetur</text>
<text x="214.1" y="635.4" font-size="4.7" font-weight="400" fill="#d9dce2" text-anchor="middle" textLength="37.5" lengthAdjust="spacingAndGlyphs" stroke="#d9dce2" stroke-width="0.15" >adipiscing elit, sed</text>
<path d="M437.15,548.21 A29.8,29.8 0 0 1 379.85,548.21" fill="none" stroke="#cc2a82" stroke-width="1.2" />
<circle cx="408.5" cy="573" r="0.65" fill="#cc2a82"/>
<circle cx="408.5" cy="576.1" r="0.65" fill="#cc2a82"/>
<circle cx="408.5" cy="579.2" r="0.65" fill="#cc2a82"/>
<circle cx="408.5" cy="582.3" r="0.65" fill="#cc2a82"/>
<circle cx="408.5" cy="585.4" r="0.65" fill="#cc2a82"/>
<circle cx="408.5" cy="588.5" r="0.65" fill="#cc2a82"/>
<circle cx="408.5" cy="591.6" r="0.65" fill="#cc2a82"/>
<circle cx="408.5" cy="594.7" r="0.65" fill="#cc2a82"/>
<circle cx="408.5" cy="597.8" r="0.65" fill="#cc2a82"/>
<circle cx="408.5" cy="600.9" r="0.65" fill="#cc2a82"/>
<circle cx="408.5" cy="604" r="0.65" fill="#cc2a82"/>
<circle cx="408.5" cy="540" r="24.3" fill="#cc2a82" filter="url(#shL)"/>
<circle cx="409.3" cy="540.8" r="21.5" fill="none" stroke="#000" stroke-opacity="0.18" stroke-width="1"/>
<circle cx="409.7" cy="541.5" r="18.6" fill="#000" opacity="0.35" filter="url(#blur1)"/>
<circle cx="408.5" cy="540" r="17.2" fill="#252e3d"/>
<g transform="translate(408.5,540) scale(1)" fill="none" stroke="#eceef2" stroke-width="1.1" stroke-linejoin="round" stroke-linecap="round"><path d="M-2.7,4.0 C-2.7,2.9 -5.6,1.6 -5.6,-0.8 A5.6,5.6 0 1 1 5.6,-0.8 C5.6,1.6 2.7,2.9 2.7,4.0 Z"/><path d="M-2.7,4.0 V6.6 Q-2.7,7.1 -2.2,7.1 H2.2 Q2.7,7.1 2.7,6.6 V4.0"/><path d="M-2.7,5.5 H2.7"/><path d="M0.9,-4.4 L-1.8,-0.6 H-0.1 L-0.9,2.0 L1.7,-1.6 H0.1 Z" fill="#eceef2" stroke="none"/></g>
<rect x="384.1" y="608" width="48.8" height="10.8" rx="5.4" fill="#cc2a82"/>
<text x="408.5" y="615.4" font-size="6.09" font-weight="700" fill="#262a40" text-anchor="middle" textLength="32" lengthAdjust="spacingAndGlyphs" stroke="#262a40" stroke-width="0.15" >INFODATA 01</text>
<text x="408.5" y="628.7" font-size="5.26" font-weight="400" fill="#dfe2e7" text-anchor="middle" textLength="46" lengthAdjust="spacingAndGlyphs" stroke="#dfe2e7" stroke-width="0.15" >Lorem ipsum dolor</text>
<text x="408.5" y="633.8" font-size="5.26" font-weight="400" fill="#dfe2e7" text-anchor="middle" textLength="51" lengthAdjust="spacingAndGlyphs" stroke="#dfe2e7" stroke-width="0.15" >sit amet, consectetur</text>
<text x="408.5" y="638.8" font-size="5.26" font-weight="400" fill="#dfe2e7" text-anchor="middle" textLength="44" lengthAdjust="spacingAndGlyphs" stroke="#dfe2e7" stroke-width="0.15" >adipiscing elit, sed</text>
<path d="M438.35,522.99 A29.8,29.8 0 0 1 495.65,522.99" fill="none" stroke="#a52bb7" stroke-width="1.2" />
<circle cx="467" cy="558.7" r="0.65" fill="#a52bb7"/>
<circle cx="467" cy="561.8" r="0.65" fill="#a52bb7"/>
<circle cx="467" cy="564.9" r="0.65" fill="#a52bb7"/>
<circle cx="467" cy="568" r="0.65" fill="#a52bb7"/>
<circle cx="467" cy="571.1" r="0.65" fill="#a52bb7"/>
<circle cx="467" cy="574.2" r="0.65" fill="#a52bb7"/>
<circle cx="467" cy="577.3" r="0.65" fill="#a52bb7"/>
<circle cx="467" cy="580.4" r="0.65" fill="#a52bb7"/>
<circle cx="467" cy="583.5" r="0.65" fill="#a52bb7"/>
<circle cx="467" cy="586.6" r="0.65" fill="#a52bb7"/>
<circle cx="467" cy="589.7" r="0.65" fill="#a52bb7"/>
<circle cx="467" cy="531.2" r="24.3" fill="#a52bb7" filter="url(#shL)"/>
<circle cx="467.8" cy="532" r="21.5" fill="none" stroke="#000" stroke-opacity="0.18" stroke-width="1"/>
<circle cx="468.2" cy="532.7" r="18.6" fill="#000" opacity="0.35" filter="url(#blur1)"/>
<circle cx="467" cy="531.2" r="17.2" fill="#252e3d"/>
<g transform="translate(467,531.2) scale(1)" fill="none" stroke="#eceef2" stroke-width="1.1" stroke-linejoin="round" stroke-linecap="round"><path d="M-6.5,-4.6 H6.5 V6 H-6.5 Z"/><path d="M-3.6,-7.4 V-2.2 M3.6,-7.4 V-2.2"/></g>
<rect x="442.6" y="594" width="48.8" height="10.8" rx="5.4" fill="#a52bb7"/>
<text x="467" y="601.4" font-size="6.09" font-weight="700" fill="#262a40" text-anchor="middle" textLength="32" lengthAdjust="spacingAndGlyphs" stroke="#262a40" stroke-width="0.15" >INFODATA 02</text>
<text x="467" y="614.7" font-size="5.26" font-weight="400" fill="#dfe2e7" text-anchor="middle" textLength="46" lengthAdjust="spacingAndGlyphs" stroke="#dfe2e7" stroke-width="0.15" >Lorem ipsum dolor</text>
<text x="467" y="619.8" font-size="5.26" font-weight="400" fill="#dfe2e7" text-anchor="middle" textLength="51" lengthAdjust="spacingAndGlyphs" stroke="#dfe2e7" stroke-width="0.15" >sit amet, consectetur</text>
<text x="467" y="624.8" font-size="5.26" font-weight="400" fill="#dfe2e7" text-anchor="middle" textLength="44" lengthAdjust="spacingAndGlyphs" stroke="#dfe2e7" stroke-width="0.15" >adipiscing elit, sed</text>
<path d="M554.25,548.21 A29.8,29.8 0 0 1 496.95,548.21" fill="none" stroke="#3e93cb" stroke-width="1.2" />
<circle cx="525.6" cy="573" r="0.65" fill="#3e93cb"/>
<circle cx="525.6" cy="576.1" r="0.65" fill="#3e93cb"/>
<circle cx="525.6" cy="579.2" r="0.65" fill="#3e93cb"/>
<circle cx="525.6" cy="582.3" r="0.65" fill="#3e93cb"/>
<circle cx="525.6" cy="585.4" r="0.65" fill="#3e93cb"/>
<circle cx="525.6" cy="588.5" r="0.65" fill="#3e93cb"/>
<circle cx="525.6" cy="591.6" r="0.65" fill="#3e93cb"/>
<circle cx="525.6" cy="594.7" r="0.65" fill="#3e93cb"/>
<circle cx="525.6" cy="597.8" r="0.65" fill="#3e93cb"/>
<circle cx="525.6" cy="600.9" r="0.65" fill="#3e93cb"/>
<circle cx="525.6" cy="604" r="0.65" fill="#3e93cb"/>
<circle cx="525.6" cy="540" r="24.3" fill="#3e93cb" filter="url(#shL)"/>
<circle cx="526.4" cy="540.8" r="21.5" fill="none" stroke="#000" stroke-opacity="0.18" stroke-width="1"/>
<circle cx="526.8" cy="541.5" r="18.6" fill="#000" opacity="0.35" filter="url(#blur1)"/>
<circle cx="525.6" cy="540" r="17.2" fill="#252e3d"/>
<g transform="translate(525.6,540) scale(1)" fill="none" stroke="#eceef2" stroke-width="1.1" stroke-linejoin="round" stroke-linecap="round"><circle cx="0" cy="0" r="7"/><ellipse cx="0" cy="0" rx="3.4" ry="7"/><path d="M0,-7 V7 M-6.6,-2.2 H6.6 M-6.6,2.2 H6.6"/></g>
<rect x="501.2" y="608" width="48.8" height="10.8" rx="5.4" fill="#3e93cb"/>
<text x="525.6" y="615.4" font-size="6.09" font-weight="700" fill="#262a40" text-anchor="middle" textLength="32" lengthAdjust="spacingAndGlyphs" stroke="#262a40" stroke-width="0.15" >INFODATA 03</text>
<text x="525.6" y="628.7" font-size="5.26" font-weight="400" fill="#dfe2e7" text-anchor="middle" textLength="46" lengthAdjust="spacingAndGlyphs" stroke="#dfe2e7" stroke-width="0.15" >Lorem ipsum dolor</text>
<text x="525.6" y="633.8" font-size="5.26" font-weight="400" fill="#dfe2e7" text-anchor="middle" textLength="51" lengthAdjust="spacingAndGlyphs" stroke="#dfe2e7" stroke-width="0.15" >sit amet, consectetur</text>
<text x="525.6" y="638.8" font-size="5.26" font-weight="400" fill="#dfe2e7" text-anchor="middle" textLength="44" lengthAdjust="spacingAndGlyphs" stroke="#dfe2e7" stroke-width="0.15" >adipiscing elit, sed</text>
<path d="M555.55,522.99 A29.8,29.8 0 0 1 612.85,522.99" fill="none" stroke="#3b5dc6" stroke-width="1.2" />
<circle cx="584.2" cy="558.7" r="0.65" fill="#3b5dc6"/>
<circle cx="584.2" cy="561.8" r="0.65" fill="#3b5dc6"/>
<circle cx="584.2" cy="564.9" r="0.65" fill="#3b5dc6"/>
<circle cx="584.2" cy="568" r="0.65" fill="#3b5dc6"/>
<circle cx="584.2" cy="571.1" r="0.65" fill="#3b5dc6"/>
<circle cx="584.2" cy="574.2" r="0.65" fill="#3b5dc6"/>
<circle cx="584.2" cy="577.3" r="0.65" fill="#3b5dc6"/>
<circle cx="584.2" cy="580.4" r="0.65" fill="#3b5dc6"/>
<circle cx="584.2" cy="583.5" r="0.65" fill="#3b5dc6"/>
<circle cx="584.2" cy="586.6" r="0.65" fill="#3b5dc6"/>
<circle cx="584.2" cy="589.7" r="0.65" fill="#3b5dc6"/>
<circle cx="584.2" cy="531.2" r="24.3" fill="#3b5dc6" filter="url(#shL)"/>
<circle cx="585" cy="532" r="21.5" fill="none" stroke="#000" stroke-opacity="0.18" stroke-width="1"/>
<circle cx="585.4" cy="532.7" r="18.6" fill="#000" opacity="0.35" filter="url(#blur1)"/>
<circle cx="584.2" cy="531.2" r="17.2" fill="#252e3d"/>
<g transform="translate(584.2,531.2) scale(1)" fill="none" stroke="#eceef2" stroke-width="1.1" stroke-linejoin="round" stroke-linecap="round"><circle cx="0" cy="0" r="6.9"/><circle cx="0" cy="0" r="4.3"/><circle cx="0" cy="0" r="1.7"/><path d="M0.3,-0.2 L8.0,-5.3"/><path d="M7.2,-7.6 L7.6,-5.2 L10.3,-4.8 L10.5,-6.6 L9.1,-7.0 L8.6,-8.6 Z" fill="#eceef2" stroke="none"/></g>
<rect x="559.8" y="594" width="48.8" height="10.8" rx="5.4" fill="#3b5dc6"/>
<text x="584.2" y="601.4" font-size="6.09" font-weight="700" fill="#262a40" text-anchor="middle" textLength="32" lengthAdjust="spacingAndGlyphs" stroke="#262a40" stroke-width="0.15" >INFODATA 04</text>
<text x="584.2" y="614.7" font-size="5.26" font-weight="400" fill="#dfe2e7" text-anchor="middle" textLength="46" lengthAdjust="spacingAndGlyphs" stroke="#dfe2e7" stroke-width="0.15" >Lorem ipsum dolor</text>
<text x="584.2" y="619.8" font-size="5.26" font-weight="400" fill="#dfe2e7" text-anchor="middle" textLength="51" lengthAdjust="spacingAndGlyphs" stroke="#dfe2e7" stroke-width="0.15" >sit amet, consectetur</text>
<text x="584.2" y="624.8" font-size="5.26" font-weight="400" fill="#dfe2e7" text-anchor="middle" textLength="44" lengthAdjust="spacingAndGlyphs" stroke="#dfe2e7" stroke-width="0.15" >adipiscing elit, sed</text>
<circle cx="746.9" cy="590.9" r="22.5" fill="url(#gDisk)" filter="url(#shD)"/>
<circle cx="746.9" cy="590.9" r="24.1" fill="none" stroke="#cc2a82" stroke-width="3.3"/>
<circle cx="746.9" cy="590.9" r="19.5" fill="none" stroke="#cc2a82" stroke-width="0.8" opacity="0.55"/>
<path d="M745.19,610.43 A19.6,19.6 0 0 1 745.19,571.37" fill="none" stroke="#cc2a82" stroke-width="1.4" />
<path d="M729.61,584.61 A18.4,18.4 0 0 1 756.1,574.97" fill="none" stroke="#cc2a82" stroke-width="0.8" opacity="0.8"/>
<path d="M766.22,596.08 A20,20 0 0 1 752.08,610.22" fill="none" stroke="#cc2a82" stroke-width="1.2" />
<path d="M756.2,574.79 A18.6,18.6 0 0 1 764.38,597.26" fill="none" stroke="#cc2a82" stroke-width="0.7" opacity="0.7"/>
<g transform="translate(746.9,591.4) scale(1.1)" fill="none" stroke="#eceef2" stroke-width="1" stroke-linejoin="round" stroke-linecap="round"><path d="M-4.4,3.4 C-5.8,2.2 -6.2,0.6 -6.2,-1.2 A6.2,6.2 0 1 1 6.2,-1.2 C6.2,0.6 5.8,2.2 4.4,3.4 Z"/><path d="M-2.8,7.4 H2.8"/><path d="M0.9,-5.0 L-1.8,-1.0 H-0.1 L-0.9,1.8 L1.8,-1.9 H0.1 Z" fill="#eceef2" stroke="none"/></g>
<circle cx="784.9" cy="546.4" r="22.5" fill="url(#gDisk)" filter="url(#shD)"/>
<circle cx="784.9" cy="546.4" r="24.1" fill="none" stroke="#a52bb7" stroke-width="3.3"/>
<circle cx="784.9" cy="546.4" r="19.5" fill="none" stroke="#a52bb7" stroke-width="0.8" opacity="0.55"/>
<path d="M783.19,565.93 A19.6,19.6 0 0 1 783.19,526.87" fill="none" stroke="#a52bb7" stroke-width="1.4" />
<path d="M767.61,540.11 A18.4,18.4 0 0 1 794.1,530.47" fill="none" stroke="#a52bb7" stroke-width="0.8" opacity="0.8"/>
<path d="M804.22,551.58 A20,20 0 0 1 790.08,565.72" fill="none" stroke="#a52bb7" stroke-width="1.2" />
<path d="M794.2,530.29 A18.6,18.6 0 0 1 802.38,552.76" fill="none" stroke="#a52bb7" stroke-width="0.7" opacity="0.7"/>
<g transform="translate(784.9,546.4) scale(1.1)" fill="none" stroke="#eceef2" stroke-width="1" stroke-linejoin="round" stroke-linecap="round"><path d="M-5.5,7.2 V-2.2 Q-5.5,-7.2 -0.4,-7.2 Q4.5,-7.2 4.5,-2.4 V0.4 L5.7,2.2 L2.9,4.7 L2.2,7.2 Z"/></g>
<circle cx="819.9" cy="590.8" r="22.5" fill="url(#gDisk)" filter="url(#shD)"/>
<circle cx="819.9" cy="590.8" r="24.1" fill="none" stroke="#3a60c8" stroke-width="3.3"/>
<circle cx="819.9" cy="590.8" r="19.5" fill="none" stroke="#3a60c8" stroke-width="0.8" opacity="0.55"/>
<path d="M818.19,610.33 A19.6,19.6 0 0 1 818.19,571.27" fill="none" stroke="#3a60c8" stroke-width="1.4" />
<path d="M802.61,584.51 A18.4,18.4 0 0 1 829.1,574.87" fill="none" stroke="#3a60c8" stroke-width="0.8" opacity="0.8"/>
<path d="M839.22,595.98 A20,20 0 0 1 825.08,610.12" fill="none" stroke="#3a60c8" stroke-width="1.2" />
<path d="M829.2,574.69 A18.6,18.6 0 0 1 837.38,597.16" fill="none" stroke="#3a60c8" stroke-width="0.7" opacity="0.7"/>
<g transform="translate(819.9,590.8) scale(1.1)" fill="none" stroke="#eceef2" stroke-width="1" stroke-linejoin="round" stroke-linecap="round"><path d="M-4.6,-3.9 A6.0,6.0 0 0 1 5.2,2.9"/><path d="M4.6,3.9 A6.0,6.0 0 0 1 -5.2,-2.9"/><path d="M-7.6,-3.4 L-3.6,-5.6 L-4.0,-1.8 Z" fill="#eceef2" stroke="none"/><path d="M7.6,3.4 L3.6,5.6 L4.0,1.8 Z" fill="#eceef2" stroke="none"/></g>
<circle cx="858" cy="546.3" r="22.5" fill="url(#gDisk)" filter="url(#shD)"/>
<circle cx="858" cy="546.3" r="24.1" fill="none" stroke="#4b30c6" stroke-width="3.3"/>
<circle cx="858" cy="546.3" r="19.5" fill="none" stroke="#4b30c6" stroke-width="0.8" opacity="0.55"/>
<path d="M856.29,565.83 A19.6,19.6 0 0 1 856.29,526.77" fill="none" stroke="#4b30c6" stroke-width="1.4" />
<path d="M840.71,540.01 A18.4,18.4 0 0 1 867.2,530.37" fill="none" stroke="#4b30c6" stroke-width="0.8" opacity="0.8"/>
<path d="M877.32,551.48 A20,20 0 0 1 863.18,565.62" fill="none" stroke="#4b30c6" stroke-width="1.2" />
<path d="M867.3,530.19 A18.6,18.6 0 0 1 875.48,552.66" fill="none" stroke="#4b30c6" stroke-width="0.7" opacity="0.7"/>
<g transform="translate(858,546.3) scale(1.1)" fill="none" stroke="#eceef2" stroke-width="1" stroke-linejoin="round" stroke-linecap="round"><circle cx="0" cy="0" r="6.3"/><text x="0" y="3.6" font-size="10.2" font-weight="700" text-anchor="middle" transform="scale(0.86,1)" fill="#eceef2" stroke="none">$</text></g>
<circle cx="892.3" cy="590.8" r="22.5" fill="url(#gDisk)" filter="url(#shD)"/>
<circle cx="892.3" cy="590.8" r="24.1" fill="none" stroke="#7a52cc" stroke-width="3.3"/>
<circle cx="892.3" cy="590.8" r="19.5" fill="none" stroke="#7a52cc" stroke-width="0.8" opacity="0.55"/>
<path d="M890.59,610.33 A19.6,19.6 0 0 1 890.59,571.27" fill="none" stroke="#7a52cc" stroke-width="1.4" />
<path d="M875.01,584.51 A18.4,18.4 0 0 1 901.5,574.87" fill="none" stroke="#7a52cc" stroke-width="0.8" opacity="0.8"/>
<path d="M911.62,595.98 A20,20 0 0 1 897.48,610.12" fill="none" stroke="#7a52cc" stroke-width="1.2" />
<path d="M901.6,574.69 A18.6,18.6 0 0 1 909.78,597.16" fill="none" stroke="#7a52cc" stroke-width="0.7" opacity="0.7"/>
<g transform="translate(892.3,590.8) scale(1.1)" fill="none" stroke="#eceef2" stroke-width="1" stroke-linejoin="round" stroke-linecap="round"><circle cx="0" cy="0" r="6.9"/><circle cx="0" cy="0" r="4.3"/><circle cx="0" cy="0" r="1.7"/><path d="M0.3,-0.2 L8.0,-5.3"/><path d="M7.2,-7.6 L7.6,-5.2 L10.3,-4.8 L10.5,-6.6 L9.1,-7.0 L8.6,-8.6 Z" fill="#eceef2" stroke="none"/></g>
<text x="784.9" y="498" font-size="4.83" font-weight="700" fill="#eceef2" text-anchor="middle" textLength="29.4" lengthAdjust="spacingAndGlyphs" stroke="#eceef2" stroke-width="0.15" >INFODATA 02</text>
<text x="784.9" y="505.4" font-size="3.92" font-weight="400" fill="#d9dce2" text-anchor="middle" textLength="33.4" lengthAdjust="spacingAndGlyphs" stroke="#d9dce2" stroke-width="0.1" >Lorem ipsum dolor</text>
<text x="784.9" y="508.9" font-size="3.92" font-weight="400" fill="#d9dce2" text-anchor="middle" textLength="36" lengthAdjust="spacingAndGlyphs" stroke="#d9dce2" stroke-width="0.1" >sit amet, consectetur</text>
<text x="784.9" y="512.5" font-size="3.92" font-weight="400" fill="#d9dce2" text-anchor="middle" textLength="31.8" lengthAdjust="spacingAndGlyphs" stroke="#d9dce2" stroke-width="0.1" >adipiscing elit, sed</text>
<text x="857.8" y="498" font-size="4.83" font-weight="700" fill="#eceef2" text-anchor="middle" textLength="29.4" lengthAdjust="spacingAndGlyphs" stroke="#eceef2" stroke-width="0.15" >INFODATA 04</text>
<text x="857.8" y="505.4" font-size="3.92" font-weight="400" fill="#d9dce2" text-anchor="middle" textLength="33.4" lengthAdjust="spacingAndGlyphs" stroke="#d9dce2" stroke-width="0.1" >Lorem ipsum dolor</text>
<text x="857.8" y="508.9" font-size="3.92" font-weight="400" fill="#d9dce2" text-anchor="middle" textLength="36" lengthAdjust="spacingAndGlyphs" stroke="#d9dce2" stroke-width="0.1" >sit amet, consectetur</text>
<text x="857.8" y="512.5" font-size="3.92" font-weight="400" fill="#d9dce2" text-anchor="middle" textLength="31.8" lengthAdjust="spacingAndGlyphs" stroke="#d9dce2" stroke-width="0.1" >adipiscing elit, sed</text>
<text x="746.5" y="628" font-size="4.83" font-weight="700" fill="#eceef2" text-anchor="middle" textLength="29.4" lengthAdjust="spacingAndGlyphs" stroke="#eceef2" stroke-width="0.15" >INFODATA 01</text>
<text x="746.5" y="635.4" font-size="3.92" font-weight="400" fill="#d9dce2" text-anchor="middle" textLength="33.4" lengthAdjust="spacingAndGlyphs" stroke="#d9dce2" stroke-width="0.1" >Lorem ipsum dolor</text>
<text x="746.5" y="638.9" font-size="3.92" font-weight="400" fill="#d9dce2" text-anchor="middle" textLength="36" lengthAdjust="spacingAndGlyphs" stroke="#d9dce2" stroke-width="0.1" >sit amet, consectetur</text>
<text x="746.5" y="642.5" font-size="3.92" font-weight="400" fill="#d9dce2" text-anchor="middle" textLength="31.8" lengthAdjust="spacingAndGlyphs" stroke="#d9dce2" stroke-width="0.1" >adipiscing elit, sed</text>
<text x="819.9" y="630.5" font-size="4.83" font-weight="700" fill="#eceef2" text-anchor="middle" textLength="29.4" lengthAdjust="spacingAndGlyphs" stroke="#eceef2" stroke-width="0.15" >INFODATA 03</text>
<text x="819.9" y="637.9" font-size="3.92" font-weight="400" fill="#d9dce2" text-anchor="middle" textLength="33.4" lengthAdjust="spacingAndGlyphs" stroke="#d9dce2" stroke-width="0.1" >Lorem ipsum dolor</text>
<text x="819.9" y="641.4" font-size="3.92" font-weight="400" fill="#d9dce2" text-anchor="middle" textLength="36" lengthAdjust="spacingAndGlyphs" stroke="#d9dce2" stroke-width="0.1" >sit amet, consectetur</text>
<text x="819.9" y="645" font-size="3.92" font-weight="400" fill="#d9dce2" text-anchor="middle" textLength="31.8" lengthAdjust="spacingAndGlyphs" stroke="#d9dce2" stroke-width="0.1" >adipiscing elit, sed</text>
<text x="892.6" y="630.5" font-size="4.83" font-weight="700" fill="#eceef2" text-anchor="middle" textLength="29.4" lengthAdjust="spacingAndGlyphs" stroke="#eceef2" stroke-width="0.15" >INFODATA 05</text>
<text x="892.6" y="637.9" font-size="3.92" font-weight="400" fill="#d9dce2" text-anchor="middle" textLength="33.4" lengthAdjust="spacingAndGlyphs" stroke="#d9dce2" stroke-width="0.1" >Lorem ipsum dolor</text>
<text x="892.6" y="641.4" font-size="3.92" font-weight="400" fill="#d9dce2" text-anchor="middle" textLength="36" lengthAdjust="spacingAndGlyphs" stroke="#d9dce2" stroke-width="0.1" >sit amet, consectetur</text>
<text x="892.6" y="645" font-size="3.92" font-weight="400" fill="#d9dce2" text-anchor="middle" textLength="31.8" lengthAdjust="spacingAndGlyphs" stroke="#d9dce2" stroke-width="0.1" >adipiscing elit, sed</text>
<g fill="#ffffff" opacity="0.07" stroke="#ffffff" stroke-width="0.9" stroke-linejoin="round" font-size="23" font-weight="700">
<text transform="translate(15.5,57) rotate(-44.8)" textLength="154" lengthAdjust="spacingAndGlyphs">Adobe Stock</text>
<text transform="translate(60.5,185) rotate(-44.8)" textLength="154" lengthAdjust="spacingAndGlyphs">Adobe Stock</text>
<text transform="translate(218.5,21) rotate(-44.8)" textLength="154" lengthAdjust="spacingAndGlyphs">Adobe Stock</text>
<text transform="translate(187,225) rotate(-44.8)" textLength="154" lengthAdjust="spacingAndGlyphs">Adobe Stock</text>
<text transform="translate(348.5,65) rotate(-44.8)" textLength="154" lengthAdjust="spacingAndGlyphs">Adobe Stock</text>
<text transform="translate(392,188) rotate(-44.8)" textLength="154" lengthAdjust="spacingAndGlyphs">Adobe Stock</text>
<text transform="translate(553.5,33) rotate(-44.8)" textLength="154" lengthAdjust="spacingAndGlyphs">Adobe Stock</text>
<text transform="translate(680.5,73) rotate(-44.8)" textLength="154" lengthAdjust="spacingAndGlyphs">Adobe Stock</text>
<text transform="translate(518.5,227) rotate(-44.8)" textLength="154" lengthAdjust="spacingAndGlyphs">Adobe Stock</text>
<text transform="translate(887,40) rotate(-44.8)" textLength="154" lengthAdjust="spacingAndGlyphs">Adobe Stock</text>
<text transform="translate(724.1,200.6) rotate(-44.8)" textLength="154" lengthAdjust="spacingAndGlyphs">Adobe Stock</text>
<text transform="translate(852.2,242) rotate(-44.8)" textLength="154" lengthAdjust="spacingAndGlyphs">Adobe Stock</text>
<text transform="translate(25.5,389) rotate(-44.8)" textLength="154" lengthAdjust="spacingAndGlyphs">Adobe Stock</text>
<text transform="translate(228.5,351) rotate(-44.8)" textLength="154" lengthAdjust="spacingAndGlyphs">Adobe Stock</text>
<text transform="translate(358.5,392) rotate(-44.8)" textLength="154" lengthAdjust="spacingAndGlyphs">Adobe Stock</text>
<text transform="translate(562.1,365.5) rotate(-44.8)" textLength="154" lengthAdjust="spacingAndGlyphs">Adobe Stock</text>
<text transform="translate(688.5,409) rotate(-44.8)" textLength="154" lengthAdjust="spacingAndGlyphs">Adobe Stock</text>
<text transform="translate(895.5,375.5) rotate(-44.8)" textLength="154" lengthAdjust="spacingAndGlyphs">Adobe Stock</text>
<text transform="translate(70.5,518) rotate(-44.8)" textLength="154" lengthAdjust="spacingAndGlyphs">Adobe Stock</text>
<text transform="translate(192.5,561) rotate(-44.8)" textLength="154" lengthAdjust="spacingAndGlyphs">Adobe Stock</text>
<text transform="translate(32.5,714) rotate(-44.8)" textLength="154" lengthAdjust="spacingAndGlyphs">Adobe Stock</text>
<text transform="translate(240.5,686) rotate(-44.8)" textLength="154" lengthAdjust="spacingAndGlyphs">Adobe Stock</text>
<text transform="translate(398.5,523) rotate(-44.8)" textLength="154" lengthAdjust="spacingAndGlyphs">Adobe Stock</text>
<text transform="translate(362.5,727) rotate(-44.8)" textLength="154" lengthAdjust="spacingAndGlyphs">Adobe Stock</text>
<text transform="translate(525.5,561) rotate(-44.8)" textLength="154" lengthAdjust="spacingAndGlyphs">Adobe Stock</text>
<text transform="translate(572.5,692) rotate(-44.8)" textLength="154" lengthAdjust="spacingAndGlyphs">Adobe Stock</text>
<text transform="translate(732.5,538) rotate(-44.8)" textLength="154" lengthAdjust="spacingAndGlyphs">Adobe Stock</text>
<text transform="translate(855.5,575) rotate(-44.8)" textLength="154" lengthAdjust="spacingAndGlyphs">Adobe Stock</text>
<text transform="translate(695.5,732) rotate(-44.8)" textLength="154" lengthAdjust="spacingAndGlyphs">Adobe Stock</text>
<text transform="translate(885.5,707) rotate(-44.8)" textLength="154" lengthAdjust="spacingAndGlyphs">Adobe Stock</text>
<text transform="translate(-104.5,352) rotate(-44.8)" textLength="154" lengthAdjust="spacingAndGlyphs">Adobe Stock</text>
<text transform="translate(-99.5,672) rotate(-44.8)" textLength="154" lengthAdjust="spacingAndGlyphs">Adobe Stock</text>
</g>
<g fill="#d2d6dd" font-size="18.5">
<text transform="translate(29.6,651.3) rotate(-90)" textLength="105.8" lengthAdjust="spacingAndGlyphs">Adobe Stock</text>
<rect x="15.5" y="536" width="14" height="1.6" fill="#d2d6dd"/>
<text transform="translate(29.6,529.8) rotate(-90)" textLength="93.6" lengthAdjust="spacingAndGlyphs">#652019713</text>
</g>
</svg></body></html>
